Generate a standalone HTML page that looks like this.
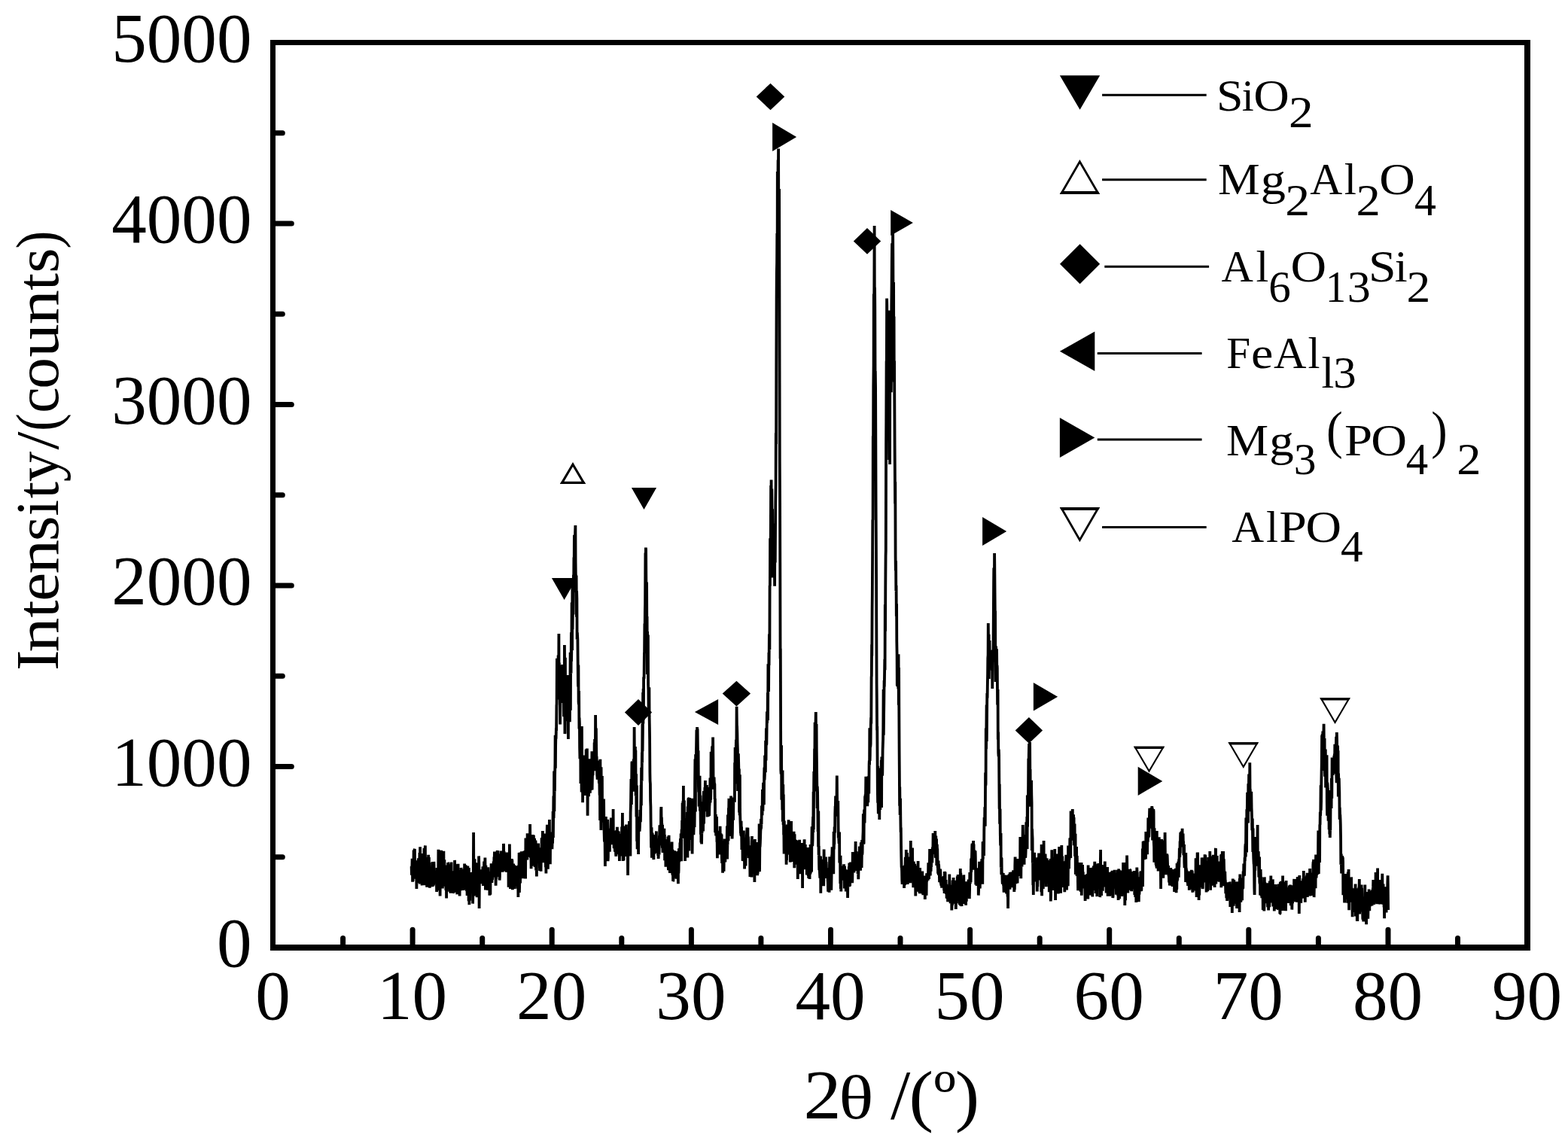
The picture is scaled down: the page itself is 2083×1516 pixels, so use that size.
<!DOCTYPE html>
<html lang="en"><head><meta charset="utf-8">
<style>
html,body{margin:0;padding:0;background:#fff;}
body{width:2083px;height:1516px;overflow:hidden;}
svg{display:block;font-family:"Liberation Serif",serif;fill:#000;}
.tk{font-size:93.2px;}
.yl{text-anchor:end;}
.xl{text-anchor:middle;}
.ax{font-size:79.5px;}
.axx{font-size:92.5px;}
.lg{font-size:59.4px;}
.o{fill:none;stroke:#000;stroke-width:3;stroke-linejoin:miter;stroke-miterlimit:10;}
.t{stroke:#000;stroke-width:7;stroke-linecap:round;fill:none;}
.ln{stroke:#000;stroke-width:3;fill:none;}
.c{stroke:#000;stroke-width:3.8;stroke-linejoin:bevel;stroke-linecap:butt;fill:none;}
</style></head>
<body>
<svg width="2083" height="1516" viewBox="0 0 2083 1516">
<rect x="0" y="0" width="2083" height="1516" fill="#fff"/>
<g class="t">
<line x1="363" y1="1138.8" x2="375.3" y2="1138.8"/>
<line x1="363" y1="1018.5" x2="387.3" y2="1018.5"/>
<line x1="363" y1="898.2" x2="375.3" y2="898.2"/>
<line x1="363" y1="778.0" x2="387.3" y2="778.0"/>
<line x1="363" y1="657.8" x2="375.3" y2="657.8"/>
<line x1="363" y1="537.5" x2="387.3" y2="537.5"/>
<line x1="363" y1="417.2" x2="375.3" y2="417.2"/>
<line x1="363" y1="297.0" x2="387.3" y2="297.0"/>
<line x1="363" y1="176.8" x2="375.3" y2="176.8"/>
<line x1="455.6" y1="1259" x2="455.6" y2="1246.5"/>
<line x1="548.1" y1="1259" x2="548.1" y2="1235.2"/>
<line x1="640.7" y1="1259" x2="640.7" y2="1246.5"/>
<line x1="733.2" y1="1259" x2="733.2" y2="1235.2"/>
<line x1="825.8" y1="1259" x2="825.8" y2="1246.5"/>
<line x1="918.4" y1="1259" x2="918.4" y2="1235.2"/>
<line x1="1010.9" y1="1259" x2="1010.9" y2="1246.5"/>
<line x1="1103.5" y1="1259" x2="1103.5" y2="1235.2"/>
<line x1="1196.0" y1="1259" x2="1196.0" y2="1246.5"/>
<line x1="1288.6" y1="1259" x2="1288.6" y2="1235.2"/>
<line x1="1381.2" y1="1259" x2="1381.2" y2="1246.5"/>
<line x1="1473.7" y1="1259" x2="1473.7" y2="1235.2"/>
<line x1="1566.3" y1="1259" x2="1566.3" y2="1246.5"/>
<line x1="1658.8" y1="1259" x2="1658.8" y2="1235.2"/>
<line x1="1751.4" y1="1259" x2="1751.4" y2="1246.5"/>
<line x1="1844.0" y1="1259" x2="1844.0" y2="1235.2"/>
<line x1="1936.5" y1="1259" x2="1936.5" y2="1246.5"/>
</g>
<g>
<rect x="359" y="53" width="7" height="1210"/>
<rect x="359" y="53" width="1674" height="7"/>
<rect x="2025" y="53" width="8" height="1210"/>
<rect x="359" y="1255" width="1674" height="8"/>
</g>
<g class="tk yl">
<text x="334.5" y="1284.0">0</text>
<text x="334.5" y="1043.5">1000</text>
<text x="334.5" y="803.0">2000</text>
<text x="334.5" y="562.5">3000</text>
<text x="334.5" y="322.0">4000</text>
<text x="334.5" y="81.5">5000</text>
</g>
<g class="tk xl">
<text x="362.5" y="1354">0</text>
<text x="547.6" y="1354">10</text>
<text x="732.7" y="1354">20</text>
<text x="917.9" y="1354">30</text>
<text x="1103.0" y="1354">40</text>
<text x="1288.1" y="1354">50</text>
<text x="1473.2" y="1354">60</text>
<text x="1658.3" y="1354">70</text>
<text x="1843.5" y="1354">80</text>
<text x="2028.6" y="1354">90</text>
</g>
<text class="ax" transform="translate(77.2 888) rotate(-90)" y="0"><tspan x="-3.0" textLength="27.5" lengthAdjust="spacingAndGlyphs">I</tspan><tspan x="21.6" textLength="46.0" lengthAdjust="spacingAndGlyphs">n</tspan><tspan x="67.5" textLength="22.9" lengthAdjust="spacingAndGlyphs">t</tspan><tspan x="89.2" textLength="38.1" lengthAdjust="spacingAndGlyphs">e</tspan><tspan x="125.6" textLength="45.7" lengthAdjust="spacingAndGlyphs">n</tspan><tspan x="168.7" textLength="33.9" lengthAdjust="spacingAndGlyphs">s</tspan><tspan x="202.6" textLength="21.4" lengthAdjust="spacingAndGlyphs">i</tspan><tspan x="225.7" textLength="22.3" lengthAdjust="spacingAndGlyphs">t</tspan><tspan x="247.8" textLength="40.5" lengthAdjust="spacingAndGlyphs">y</tspan><tspan x="290.4" textLength="24.0" lengthAdjust="spacingAndGlyphs">/</tspan><tspan x="314.9" textLength="23.9" lengthAdjust="spacingAndGlyphs">(</tspan><tspan x="339.2" textLength="34.3" lengthAdjust="spacingAndGlyphs">c</tspan><tspan x="371.3" textLength="41.8" lengthAdjust="spacingAndGlyphs">o</tspan><tspan x="413.2" textLength="44.5" lengthAdjust="spacingAndGlyphs">u</tspan><tspan x="456.8" textLength="46.1" lengthAdjust="spacingAndGlyphs">n</tspan><tspan x="502.3" textLength="22.7" lengthAdjust="spacingAndGlyphs">t</tspan><tspan x="525.3" textLength="33.4" lengthAdjust="spacingAndGlyphs">s</tspan><tspan x="557.6" textLength="23.9" lengthAdjust="spacingAndGlyphs">)</tspan></text>
<text class="axx" y="1485.8"><tspan x="1067.4" font-size="93.3" textLength="50.1" lengthAdjust="spacingAndGlyphs">2</tspan><tspan x="1114.2" font-size="81.5" textLength="46.2" lengthAdjust="spacingAndGlyphs">θ</tspan><tspan> </tspan><tspan x="1182.9" font-size="93.0" textLength="26.3" lengthAdjust="spacingAndGlyphs">/</tspan><tspan x="1207.5" font-size="90.0" textLength="32.5" lengthAdjust="spacingAndGlyphs">(</tspan><tspan x="1240.4" font-size="93.0" textLength="29.4" lengthAdjust="spacingAndGlyphs">º</tspan><tspan x="1268.8" font-size="90.0" textLength="32.4" lengthAdjust="spacingAndGlyphs">)</tspan></text>
<path class="c" d="M546.6 1151.1L546.9 1162.7L547.1 1151.5L547.4 1150.2L547.6 1140.8L547.9 1151.7L548.1 1171.8L548.4 1161.3
L548.6 1170.6L548.9 1158.6L549.1 1160.8L549.4 1157.6L549.6 1129.4L549.9 1167.8L550.1 1162.5L550.4 1162.3
L550.6 1128.8L550.9 1128.0L551.1 1141.0L551.4 1147.5L551.6 1159.3L551.9 1153.9L552.1 1162.6L552.4 1144.7
L552.6 1159.3L552.9 1160.6L553.1 1144.3L553.4 1180.9L553.6 1163.1L553.9 1172.9L554.1 1145.2L554.4 1143.4
L554.6 1149.5L554.9 1153.1L555.1 1164.3L555.4 1158.6L555.6 1148.1L555.9 1140.4L556.1 1147.1L556.4 1173.2
L556.6 1142.8L556.9 1158.6L557.1 1161.4L557.4 1132.9L557.6 1155.8L557.9 1174.5L558.1 1125.3L558.4 1150.4
L558.6 1153.6L558.9 1143.2L559.1 1162.6L559.4 1154.4L559.6 1133.9L559.9 1167.4L560.1 1165.1L560.4 1169.2
L560.6 1176.4L560.9 1160.7L561.1 1157.2L561.4 1136.8L561.6 1164.4L561.9 1146.8L562.1 1149.1L562.4 1137.6
L562.6 1141.9L562.9 1148.2L563.1 1174.1L563.4 1127.0L563.6 1135.2L563.9 1159.2L564.1 1176.2L564.4 1164.1
L564.6 1129.3L564.9 1123.4L565.1 1161.1L565.4 1146.1L565.6 1141.2L565.9 1170.1L566.1 1171.9L566.4 1159.4
L566.6 1160.8L566.9 1163.4L567.1 1178.8L567.4 1166.2L567.6 1165.1L567.9 1165.6L568.1 1139.1L568.4 1175.2
L568.6 1171.2L568.9 1166.1L569.1 1135.7L569.4 1152.4L569.6 1170.4L569.9 1139.0L570.1 1158.6L570.4 1172.8
L570.6 1146.1L570.9 1179.8L571.1 1167.9L571.4 1160.2L571.6 1165.7L571.9 1169.5L572.1 1163.8L572.4 1174.9
L572.6 1154.9L572.9 1157.4L573.1 1173.6L573.4 1162.1L573.6 1151.7L573.9 1172.4L574.1 1178.3L574.4 1156.2
L574.6 1145.1L574.9 1159.5L575.1 1159.2L575.4 1157.3L575.6 1177.5L575.9 1148.3L576.1 1175.7L576.4 1144.9
L576.6 1150.6L576.9 1167.8L577.1 1173.9L577.4 1170.5L577.6 1164.0L577.9 1161.4L578.1 1161.4L578.4 1166.6
L578.6 1157.0L578.9 1162.6L579.1 1166.3L579.4 1158.8L579.6 1168.7L579.9 1166.0L580.1 1185.0L580.4 1162.9
L580.6 1153.1L580.9 1153.9L581.1 1158.7L581.4 1171.1L581.6 1154.6L581.9 1164.1L582.1 1183.3L582.4 1128.7
L582.6 1144.5L582.9 1162.6L583.1 1164.7L583.4 1162.6L583.6 1153.9L583.9 1168.3L584.1 1163.4L584.4 1152.9
L584.6 1190.4L584.9 1164.6L585.1 1152.7L585.4 1158.8L585.6 1157.2L585.9 1159.4L586.1 1129.8L586.4 1154.0
L586.6 1173.8L586.9 1145.2L587.1 1159.8L587.4 1173.3L587.6 1172.0L587.9 1180.5L588.1 1138.5L588.4 1156.4
L588.6 1156.6L588.9 1169.4L589.1 1175.6L589.4 1130.8L589.6 1175.7L589.9 1142.4L590.1 1170.6L590.4 1142.2
L590.6 1164.2L590.9 1177.7L591.1 1160.4L591.4 1165.0L591.6 1173.0L591.9 1164.7L592.1 1161.9L592.4 1182.9
L592.6 1176.9L592.9 1159.9L593.1 1193.4L593.4 1149.5L593.6 1175.8L593.9 1161.0L594.1 1166.2L594.4 1173.6
L594.6 1167.7L594.9 1173.1L595.1 1146.3L595.4 1146.8L595.6 1173.3L595.9 1154.0L596.1 1153.4L596.4 1148.2
L596.6 1181.9L596.9 1175.7L597.1 1184.7L597.4 1155.6L597.6 1167.2L597.9 1153.6L598.1 1176.8L598.4 1186.8
L598.6 1157.3L598.9 1186.7L599.1 1180.1L599.4 1166.4L599.6 1145.4L599.9 1185.5L600.1 1167.9L600.4 1162.0
L600.6 1173.7L600.9 1173.9L601.1 1186.6L601.4 1157.2L601.6 1182.4L601.9 1186.5L602.1 1186.1L602.4 1167.1
L602.6 1160.6L602.9 1181.1L603.1 1170.6L603.4 1170.8L603.6 1185.8L603.9 1166.3L604.1 1142.9L604.4 1165.0
L604.6 1148.1L604.9 1178.9L605.1 1173.1L605.4 1162.5L605.6 1169.5L605.9 1179.1L606.1 1170.5L606.4 1184.8
L606.6 1169.0L606.9 1181.5L607.1 1186.7L607.4 1188.0L607.6 1162.1L607.9 1179.7L608.1 1148.6L608.4 1157.6
L608.6 1147.7L608.9 1181.9L609.1 1156.1L609.4 1169.8L609.6 1167.8L609.9 1169.7L610.1 1163.4L610.4 1172.8
L610.6 1190.4L610.9 1170.9L611.1 1176.5L611.4 1181.9L611.6 1168.6L611.9 1156.8L612.1 1164.8L612.4 1183.2
L612.6 1152.9L612.9 1164.7L613.1 1182.8L613.4 1180.6L613.6 1171.9L613.9 1180.9L614.1 1173.9L614.4 1159.0
L614.6 1154.8L614.9 1165.3L615.1 1182.9L615.4 1166.3L615.6 1162.7L615.9 1164.3L616.1 1155.9L616.4 1171.9
L616.6 1160.1L616.9 1177.5L617.1 1147.5L617.4 1177.3L617.6 1166.6L617.9 1152.2L618.1 1182.2L618.4 1171.1
L618.6 1149.3L618.9 1164.6L619.1 1177.8L619.4 1169.5L619.6 1183.5L619.9 1183.3L620.1 1182.4L620.4 1178.6
L620.6 1190.0L620.9 1182.3L621.1 1179.8L621.4 1150.4L621.6 1184.9L621.9 1189.7L622.1 1170.8L622.4 1168.6
L622.6 1197.3L622.9 1153.0L623.1 1179.6L623.4 1202.1L623.6 1162.5L623.9 1182.2L624.1 1196.9L624.4 1172.1
L624.6 1180.5L624.9 1184.7L625.1 1161.9L625.4 1172.1L625.6 1176.9L625.9 1183.6L626.1 1172.4L626.4 1170.0
L626.6 1159.1L626.9 1167.3L627.1 1183.1L627.4 1172.6L627.6 1159.8L627.9 1159.7L628.1 1200.6L628.4 1184.9
L628.6 1178.0L628.9 1138.9L629.1 1106.0L629.4 1175.0L629.6 1190.5L629.9 1173.7L630.1 1166.8L630.4 1174.3
L630.6 1141.3L630.9 1180.5L631.1 1170.8L631.4 1156.8L631.6 1183.5L631.9 1189.6L632.1 1146.4L632.4 1155.9
L632.6 1168.4L632.9 1166.7L633.1 1158.7L633.4 1151.1L633.6 1192.2L633.9 1177.8L634.1 1148.5L634.4 1146.7
L634.6 1186.4L634.9 1177.1L635.1 1187.8L635.4 1174.7L635.6 1153.3L635.9 1167.8L636.1 1137.4L636.4 1155.2
L636.6 1207.0L636.9 1171.1L637.1 1155.7L637.4 1163.2L637.6 1170.3L637.9 1169.4L638.1 1172.5L638.4 1167.4
L638.6 1161.1L638.9 1174.3L639.1 1165.6L639.4 1155.4L639.6 1157.8L639.9 1165.1L640.1 1163.9L640.4 1167.0
L640.6 1165.3L640.9 1167.3L641.1 1163.8L641.4 1151.4L641.6 1170.1L641.9 1177.0L642.1 1170.2L642.4 1163.4
L642.6 1170.3L642.9 1154.8L643.1 1144.5L643.4 1165.9L643.6 1155.0L643.9 1173.3L644.1 1153.2L644.4 1139.5
L644.6 1153.6L644.9 1182.4L645.1 1160.7L645.4 1149.8L645.6 1156.4L645.9 1170.5L646.1 1170.2L646.4 1166.6
L646.6 1181.1L646.9 1172.4L647.1 1164.3L647.4 1171.1L647.6 1182.8L647.9 1175.2L648.1 1175.8L648.4 1152.2
L648.6 1162.6L648.9 1172.4L649.1 1160.9L649.4 1176.1L649.6 1170.7L649.9 1174.2L650.1 1161.5L650.4 1189.7
L650.6 1177.2L650.9 1160.5L651.1 1163.7L651.4 1188.8L651.6 1158.1L651.9 1171.7L652.1 1172.6L652.4 1161.1
L652.6 1147.3L652.9 1162.6L653.1 1164.3L653.4 1173.0L653.6 1168.7L653.9 1159.5L654.1 1168.9L654.4 1164.9
L654.6 1160.7L654.9 1158.6L655.1 1154.7L655.4 1165.5L655.6 1144.4L655.9 1149.1L656.1 1156.5L656.4 1138.6
L656.6 1150.8L656.9 1131.6L657.1 1147.5L657.4 1162.4L657.6 1162.2L657.9 1154.5L658.1 1152.2L658.4 1137.6
L658.6 1176.8L658.9 1160.7L659.1 1167.5L659.4 1143.4L659.6 1151.6L659.9 1131.6L660.1 1163.0L660.4 1164.7
L660.6 1130.1L660.9 1152.4L661.1 1160.5L661.4 1131.1L661.6 1130.2L661.9 1139.3L662.1 1144.4L662.4 1134.7
L662.6 1152.1L662.9 1154.6L663.1 1159.1L663.4 1159.8L663.6 1169.5L663.9 1165.1L664.1 1134.5L664.4 1144.3
L664.6 1137.2L664.9 1136.8L665.1 1149.0L665.4 1150.1L665.6 1156.0L665.9 1130.4L666.1 1134.7L666.4 1149.7
L666.6 1147.5L666.9 1146.1L667.1 1149.1L667.4 1140.5L667.6 1158.6L667.9 1154.3L668.1 1148.8L668.4 1141.5
L668.6 1147.7L668.9 1121.0L669.1 1123.0L669.4 1150.3L669.6 1131.1L669.9 1152.3L670.1 1151.6L670.4 1132.6
L670.6 1146.6L670.9 1145.8L671.1 1155.5L671.4 1157.3L671.6 1149.2L671.9 1139.1L672.1 1147.9L672.4 1148.8
L672.6 1158.8L672.9 1153.3L673.1 1140.6L673.4 1132.6L673.6 1144.9L673.9 1140.3L674.1 1135.6L674.4 1148.1
L674.6 1143.4L674.9 1150.9L675.1 1156.1L675.4 1144.3L675.6 1178.7L675.9 1145.5L676.1 1163.5L676.4 1151.5
L676.6 1164.3L676.9 1121.4L677.1 1141.5L677.4 1154.4L677.6 1159.2L677.9 1181.0L678.1 1156.3L678.4 1168.6
L678.6 1162.5L678.9 1165.1L679.1 1159.9L679.4 1151.9L679.6 1160.6L679.9 1141.1L680.1 1169.6L680.4 1142.5
L680.6 1158.6L680.9 1182.2L681.1 1153.4L681.4 1156.8L681.6 1171.3L681.9 1157.5L682.1 1147.5L682.4 1161.0
L682.6 1165.4L682.9 1167.3L683.1 1149.3L683.4 1180.8L683.6 1180.0L683.9 1160.0L684.1 1163.3L684.4 1154.6
L684.6 1177.7L684.9 1150.9L685.1 1168.5L685.4 1153.6L685.6 1150.7L685.9 1169.2L686.1 1177.4L686.4 1159.5
L686.6 1150.4L686.9 1170.6L687.1 1158.8L687.4 1163.8L687.6 1180.7L687.9 1175.3L688.1 1151.9L688.4 1192.0
L688.6 1159.3L688.9 1170.7L689.1 1149.6L689.4 1158.4L689.6 1132.9L689.9 1185.9L690.1 1179.3L690.4 1139.9
L690.6 1135.0L690.9 1132.7L691.1 1173.4L691.4 1148.7L691.6 1153.9L691.9 1149.6L692.1 1151.7L692.4 1137.3
L692.6 1152.5L692.9 1131.2L693.1 1149.8L693.4 1154.4L693.6 1155.9L693.9 1145.6L694.1 1135.8L694.4 1149.7
L694.6 1140.3L694.9 1167.1L695.1 1155.7L695.4 1143.3L695.6 1138.0L695.9 1134.4L696.1 1130.8L696.4 1137.7
L696.6 1145.3L696.9 1147.4L697.1 1147.4L697.4 1166.2L697.6 1130.1L697.9 1138.6L698.1 1167.4L698.4 1113.5
L698.6 1130.0L698.9 1138.2L699.1 1137.4L699.4 1140.1L699.6 1131.2L699.9 1138.4L700.1 1133.7L700.4 1142.5
L700.6 1107.3L700.9 1119.7L701.1 1130.6L701.4 1116.6L701.6 1115.8L701.9 1137.1L702.1 1120.0L702.4 1137.0
L702.6 1138.6L702.9 1132.9L703.1 1135.7L703.4 1127.8L703.6 1110.9L703.9 1129.0L704.1 1095.0L704.4 1122.8
L704.6 1128.5L704.9 1139.6L705.1 1118.7L705.4 1138.4L705.6 1154.3L705.9 1123.3L706.1 1132.4L706.4 1128.7
L706.6 1150.6L706.9 1135.0L707.1 1142.5L707.4 1122.4L707.6 1131.1L707.9 1131.3L708.1 1108.9L708.4 1150.0
L708.6 1143.2L708.9 1109.7L709.1 1141.5L709.4 1130.5L709.6 1138.0L709.9 1137.0L710.1 1113.7L710.4 1130.2
L710.6 1152.1L710.9 1126.1L711.1 1120.6L711.4 1116.6L711.6 1118.6L711.9 1138.8L712.1 1156.6L712.4 1140.6
L712.6 1138.5L712.9 1164.6L713.1 1129.1L713.4 1127.3L713.6 1143.3L713.9 1143.9L714.1 1123.6L714.4 1121.8
L714.6 1141.3L714.9 1141.0L715.1 1120.6L715.4 1135.6L715.6 1131.3L715.9 1145.0L716.1 1137.3L716.4 1137.5
L716.6 1133.5L716.9 1152.5L717.1 1157.0L717.4 1132.4L717.6 1149.1L717.9 1126.4L718.1 1137.7L718.4 1147.1
L718.6 1157.8L718.9 1130.4L719.1 1134.6L719.4 1138.2L719.6 1113.2L719.9 1135.1L720.1 1124.6L720.4 1139.8
L720.6 1117.1L720.9 1104.0L721.1 1134.1L721.4 1137.2L721.6 1124.6L721.9 1146.3L722.1 1128.1L722.4 1122.7
L722.6 1138.8L722.9 1107.4L723.1 1120.6L723.4 1130.1L723.6 1142.6L723.9 1127.2L724.1 1133.7L724.4 1119.2
L724.6 1132.8L724.9 1152.1L725.1 1117.7L725.4 1160.5L725.6 1117.7L725.9 1126.7L726.1 1128.5L726.4 1140.0
L726.6 1108.0L726.9 1095.8L727.1 1132.8L727.4 1135.0L727.6 1132.2L727.9 1154.7L728.1 1125.7L728.4 1125.9
L728.6 1134.5L728.9 1126.6L729.1 1143.3L729.4 1104.6L729.6 1115.6L729.9 1089.1L730.1 1130.8L730.4 1114.4
L730.6 1131.7L730.9 1148.2L731.1 1118.3L731.4 1114.5L731.6 1110.7L731.9 1105.5L732.1 1108.0L732.4 1125.5
L732.6 1116.6L732.9 1116.7L733.1 1112.9L733.4 1128.1L733.6 1121.7L733.9 1112.2L734.1 1120.9L734.4 1101.4
L734.6 1078.0L734.9 1113.1L735.1 1089.7L735.4 1057.5L735.6 1086.9L735.9 1067.0L736.1 1024.6L736.4 1078.1
L736.6 1047.1L736.9 1051.6L737.1 1030.5L737.4 1014.7L737.6 976.9L737.9 1020.7L738.1 992.1L738.4 976.5
L738.6 981.8L738.9 967.0L739.1 971.4L739.4 937.4L739.6 935.1L739.9 874.8L740.1 905.7L740.4 922.6L740.6 929.4
L740.9 876.8L741.1 876.6L741.4 917.2L741.6 870.5L741.9 893.6L742.1 912.2L742.4 842.0L742.6 912.1L742.9 880.6
L743.1 910.5L743.4 904.3L743.6 909.8L743.9 934.5L744.1 962.4L744.4 894.4L744.6 897.6L744.9 922.0L745.1 889.5
L745.4 923.2L745.6 925.3L745.9 909.0L746.1 925.5L746.4 883.9L746.6 930.5L746.9 882.9L747.1 900.3L747.4 903.0
L747.6 906.2L747.9 934.1L748.1 916.8L748.4 905.9L748.6 927.6L748.9 952.3L749.1 915.1L749.4 923.9L749.6 945.5
L749.9 857.0L750.1 883.6L750.4 975.0L750.6 973.3L750.9 873.7L751.1 922.3L751.4 934.9L751.6 949.2L751.9 944.0
L752.1 924.7L752.4 909.5L752.6 936.7L752.9 958.3L753.1 914.5L753.4 915.7L753.6 935.9L753.9 896.9L754.1 930.3
L754.4 926.4L754.6 943.2L754.9 982.0L755.1 917.0L755.4 925.8L755.6 931.7L755.9 920.2L756.1 931.9L756.4 944.3
L756.6 951.2L756.9 959.2L757.1 913.5L757.4 911.8L757.6 866.7L757.9 943.8L758.1 881.2L758.4 888.7L758.6 894.6
L758.9 840.2L759.1 878.6L759.4 857.1L759.6 800.5L759.9 848.1L760.1 863.9L760.4 771.6L760.6 836.3L760.9 811.1
L761.1 809.9L761.4 800.3L761.6 816.5L761.9 763.8L762.1 787.1L762.4 740.6L762.6 765.7L762.9 710.8L763.1 727.3
L763.4 780.9L763.6 745.2L763.9 730.4L764.1 707.9L764.4 698.0L764.6 747.5L764.9 772.0L765.1 763.9L765.4 772.1
L765.6 764.8L765.9 819.8L766.1 785.0L766.4 795.7L766.6 849.6L766.9 840.4L767.1 844.6L767.4 850.3L767.6 872.1
L767.9 907.7L768.1 912.5L768.4 883.6L768.6 932.8L768.9 936.1L769.1 917.9L769.4 968.4L769.6 953.6L769.9 961.9
L770.1 993.8L770.4 1008.2L770.6 967.2L770.9 994.7L771.1 969.3L771.4 1040.9L771.6 983.7L771.9 1022.6
L772.1 986.5L772.4 1020.2L772.6 1052.5L772.9 965.0L773.1 1007.1L773.4 1028.9L773.6 1022.4L773.9 1017.2
L774.1 1066.2L774.4 1032.8L774.6 1004.6L774.9 1046.6L775.1 1003.6L775.4 1052.6L775.6 1023.5L775.9 1036.3
L776.1 1056.1L776.4 1036.6L776.6 1010.3L776.9 1005.0L777.1 1056.9L777.4 1049.4L777.6 1021.5L777.9 1052.6
L778.1 1046.4L778.4 1049.6L778.6 995.4L778.9 1032.5L779.1 1055.8L779.4 1053.1L779.6 1056.5L779.9 994.5
L780.1 1043.2L780.4 1049.1L780.6 1083.8L780.9 1020.8L781.1 1032.4L781.4 1039.0L781.6 1054.4L781.9 1029.6
L782.1 1058.2L782.4 1022.9L782.6 1041.5L782.9 1027.2L783.1 1038.9L783.4 1023.9L783.6 1008.2L783.9 1053.7
L784.1 1040.0L784.4 1025.3L784.6 1037.5L784.9 1050.0L785.1 1018.0L785.4 1031.6L785.6 1041.5L785.9 1040.8
L786.1 1026.9L786.4 998.3L786.6 1049.5L786.9 1034.1L787.1 1028.1L787.4 1022.4L787.6 1030.1L787.9 1017.9
L788.1 1007.0L788.4 1010.5L788.6 1011.8L788.9 1010.4L789.1 998.6L789.4 1024.2L789.6 986.6L789.9 1015.3
L790.1 982.1L790.4 1000.8L790.6 1013.7L790.9 988.9L791.1 950.0L791.4 983.1L791.6 990.4L791.9 967.5L792.1 990.8
L792.4 1007.3L792.6 1005.0L792.9 1017.5L793.1 1029.1L793.4 1031.7L793.6 1035.7L793.9 1033.9L794.1 1024.4
L794.4 1029.9L794.6 1028.1L794.9 1029.2L795.1 1033.0L795.4 1010.4L795.6 1034.1L795.9 1041.0L796.1 1026.5
L796.4 1044.7L796.6 1056.4L796.9 1045.8L797.1 1090.1L797.4 1008.8L797.6 1050.6L797.9 1022.3L798.1 1076.5
L798.4 1103.1L798.6 1019.2L798.9 1066.2L799.1 1075.2L799.4 1062.1L799.6 1079.5L799.9 1031.1L800.1 1088.5
L800.4 1081.7L800.6 1077.4L800.9 1068.5L801.1 1092.6L801.4 1077.0L801.6 1092.7L801.9 1084.6L802.1 1061.4
L802.4 1099.8L802.6 1107.0L802.9 1118.5L803.1 1097.8L803.4 1109.8L803.6 1119.0L803.9 1151.0L804.1 1128.0
L804.4 1138.4L804.6 1098.7L804.9 1085.0L805.1 1123.2L805.4 1132.5L805.6 1124.4L805.9 1123.1L806.1 1103.9
L806.4 1102.8L806.6 1124.5L806.9 1100.5L807.1 1088.7L807.4 1099.8L807.6 1144.1L807.9 1138.9L808.1 1104.6
L808.4 1104.2L808.6 1117.0L808.9 1104.4L809.1 1131.4L809.4 1113.5L809.6 1100.7L809.9 1131.8L810.1 1107.5
L810.4 1117.8L810.6 1114.8L810.9 1111.0L811.1 1119.2L811.4 1106.1L811.6 1091.2L811.9 1086.6L812.1 1098.7
L812.4 1105.2L812.6 1114.7L812.9 1115.7L813.1 1122.2L813.4 1116.5L813.6 1104.8L813.9 1105.9L814.1 1087.7
L814.4 1112.8L814.6 1075.0L814.9 1121.8L815.1 1113.4L815.4 1112.8L815.6 1127.1L815.9 1115.2L816.1 1124.5
L816.4 1122.5L816.6 1117.7L816.9 1131.8L817.1 1107.6L817.4 1110.4L817.6 1104.6L817.9 1104.7L818.1 1135.0
L818.4 1137.7L818.6 1115.3L818.9 1122.3L819.1 1130.1L819.4 1125.4L819.6 1130.5L819.9 1098.7L820.1 1106.8
L820.4 1121.0L820.6 1133.7L820.9 1116.6L821.1 1104.3L821.4 1110.9L821.6 1107.0L821.9 1104.5L822.1 1135.2
L822.4 1107.7L822.6 1116.2L822.9 1144.0L823.1 1131.4L823.4 1120.5L823.6 1108.3L823.9 1121.7L824.1 1137.5
L824.4 1124.6L824.6 1133.0L824.9 1118.0L825.1 1123.5L825.4 1114.3L825.6 1122.5L825.9 1134.0L826.1 1098.5
L826.4 1116.4L826.6 1120.4L826.9 1080.0L827.1 1113.5L827.4 1127.9L827.6 1143.9L827.9 1126.0L828.1 1122.1
L828.4 1097.6L828.6 1143.3L828.9 1119.1L829.1 1117.7L829.4 1103.6L829.6 1117.6L829.9 1104.0L830.1 1119.5
L830.4 1124.8L830.6 1119.2L830.9 1122.6L831.1 1107.8L831.4 1138.0L831.6 1110.7L831.9 1095.5L832.1 1117.1
L832.4 1109.6L832.6 1106.5L832.9 1115.3L833.1 1123.9L833.4 1104.6L833.6 1118.5L833.9 1139.2L834.1 1163.0
L834.4 1118.7L834.6 1122.5L834.9 1119.3L835.1 1120.4L835.4 1130.8L835.6 1120.1L835.9 1090.9L836.1 1119.8
L836.4 1104.1L836.6 1122.4L836.9 1100.1L837.1 1108.1L837.4 1137.5L837.6 1079.7L837.9 1071.1L838.1 1058.7
L838.4 1035.1L838.6 1035.4L838.9 1068.9L839.1 1043.3L839.4 1012.7L839.6 1012.5L839.9 1046.3L840.1 1013.4
L840.4 1018.2L840.6 1028.4L840.9 1044.4L841.1 1051.6L841.4 1031.0L841.6 1011.3L841.9 1008.7L842.1 1033.7
L842.4 1023.4L842.6 966.0L842.9 1004.9L843.1 1007.1L843.4 1008.0L843.6 1002.9L843.9 992.1L844.1 1011.8
L844.4 996.7L844.6 1057.6L844.9 1052.6L845.1 1028.2L845.4 1085.5L845.6 1084.6L845.9 1043.6L846.1 1117.7
L846.4 1108.4L846.6 1128.3L846.9 1085.1L847.1 1114.3L847.4 1115.1L847.6 1114.8L847.9 1117.0L848.1 1135.0
L848.4 1094.5L848.6 1093.6L848.9 1087.5L849.1 1096.1L849.4 1092.0L849.6 1104.7L849.9 1099.4L850.1 1091.8
L850.4 1076.0L850.6 1076.3L850.9 1092.2L851.1 1080.4L851.4 1059.6L851.6 1042.9L851.9 1070.3L852.1 1019.8
L852.4 1035.8L852.6 1037.7L852.9 999.7L853.1 1013.6L853.4 961.8L853.6 998.3L853.9 970.5L854.1 919.9
L854.4 961.5L854.6 915.0L854.9 956.6L855.1 899.5L855.4 901.9L855.6 900.4L855.9 868.1L856.1 866.8L856.4 828.5
L856.6 845.0L856.9 810.2L857.1 802.0L857.4 734.4L857.6 805.4L857.9 727.6L858.1 730.3L858.4 782.0L858.6 799.7
L858.9 824.6L859.1 773.6L859.4 856.5L859.6 819.1L859.9 896.1L860.1 839.1L860.4 870.7L860.6 853.0L860.9 843.5
L861.1 910.0L861.4 917.2L861.6 946.5L861.9 943.6L862.1 923.7L862.4 913.2L862.6 951.9L862.9 967.9L863.1 981.6
L863.4 1026.8L863.6 1037.6L863.9 1041.6L864.1 1063.7L864.4 1071.7L864.6 1091.6L864.9 1114.1L865.1 1126.4
L865.4 1105.4L865.6 1099.2L865.9 1139.8L866.1 1126.3L866.4 1137.3L866.6 1106.6L866.9 1121.2L867.1 1125.1
L867.4 1108.8L867.6 1119.0L867.9 1132.7L868.1 1136.5L868.4 1142.1L868.6 1115.1L868.9 1109.2L869.1 1130.2
L869.4 1134.7L869.6 1126.5L869.9 1110.2L870.1 1132.8L870.4 1132.8L870.6 1130.2L870.9 1119.0L871.1 1127.4
L871.4 1132.6L871.6 1118.1L871.9 1104.4L872.1 1127.2L872.4 1128.2L872.6 1122.4L872.9 1131.4L873.1 1114.3
L873.4 1119.2L873.6 1115.9L873.9 1125.3L874.1 1136.6L874.4 1114.3L874.6 1141.0L874.9 1134.2L875.1 1124.7
L875.4 1121.6L875.6 1135.6L875.9 1110.7L876.1 1110.3L876.4 1096.2L876.6 1113.9L876.9 1123.2L877.1 1110.8
L877.4 1107.5L877.6 1097.3L877.9 1100.2L878.1 1076.9L878.4 1072.0L878.6 1092.3L878.9 1085.7L879.1 1093.3
L879.4 1095.1L879.6 1120.9L879.9 1126.6L880.1 1096.0L880.4 1130.5L880.6 1132.8L880.9 1115.2L881.1 1104.5
L881.4 1115.6L881.6 1117.8L881.9 1132.1L882.1 1123.1L882.4 1100.7L882.6 1132.6L882.9 1109.0L883.1 1143.2
L883.4 1115.0L883.6 1122.7L883.9 1121.2L884.1 1126.2L884.4 1151.8L884.6 1146.4L884.9 1143.7L885.1 1140.4
L885.4 1115.6L885.6 1129.7L885.9 1129.5L886.1 1124.2L886.4 1144.2L886.6 1127.9L886.9 1128.6L887.1 1124.5
L887.4 1111.5L887.6 1146.5L887.9 1156.3L888.1 1141.5L888.4 1126.8L888.6 1109.8L888.9 1142.3L889.1 1156.0
L889.4 1144.4L889.6 1152.7L889.9 1160.0L890.1 1155.7L890.4 1136.0L890.6 1155.2L890.9 1151.9L891.1 1123.1
L891.4 1137.6L891.6 1125.1L891.9 1141.8L892.1 1150.7L892.4 1130.5L892.6 1118.5L892.9 1160.3L893.1 1149.1
L893.4 1162.8L893.6 1128.8L893.9 1158.2L894.1 1170.8L894.4 1170.2L894.6 1143.5L894.9 1149.6L895.1 1144.7
L895.4 1158.5L895.6 1159.0L895.9 1147.6L896.1 1130.3L896.4 1155.5L896.6 1141.0L896.9 1154.2L897.1 1149.8
L897.4 1166.1L897.6 1160.3L897.9 1141.3L898.1 1150.9L898.4 1167.7L898.6 1140.4L898.9 1151.9L899.1 1160.9
L899.4 1161.7L899.6 1153.0L899.9 1131.2L900.1 1131.9L900.4 1149.8L900.6 1151.5L900.9 1174.3L901.1 1136.8
L901.4 1160.4L901.6 1156.0L901.9 1127.3L902.1 1136.0L902.4 1145.3L902.6 1133.8L902.9 1135.5L903.1 1141.9
L903.4 1119.6L903.6 1137.0L903.9 1115.9L904.1 1114.3L904.4 1131.0L904.6 1107.5L904.9 1121.3L905.1 1144.3
L905.4 1109.0L905.6 1101.7L905.9 1114.1L906.1 1090.0L906.4 1111.6L906.6 1066.8L906.9 1094.9L907.1 1072.5
L907.4 1064.4L907.6 1099.4L907.9 1044.0L908.1 1097.0L908.4 1084.1L908.6 1100.8L908.9 1063.4L909.1 1104.7
L909.4 1113.5L909.6 1087.4L909.9 1090.2L910.1 1144.0L910.4 1102.9L910.6 1091.8L910.9 1087.2L911.1 1110.6
L911.4 1108.0L911.6 1104.6L911.9 1137.9L912.1 1093.6L912.4 1110.8L912.6 1131.9L912.9 1079.0L913.1 1122.7
L913.4 1139.5L913.6 1071.6L913.9 1077.0L914.1 1078.3L914.4 1061.2L914.6 1061.0L914.9 1061.1L915.1 1110.5
L915.4 1130.5L915.6 1066.2L915.9 1093.3L916.1 1060.0L916.4 1116.0L916.6 1084.5L916.9 1094.2L917.1 1100.8
L917.4 1110.8L917.6 1092.5L917.9 1099.8L918.1 1088.3L918.4 1101.5L918.6 1075.5L918.9 1099.9L919.1 1060.7
L919.4 1088.7L919.6 1134.5L919.9 1099.2L920.1 1073.9L920.4 1101.9L920.6 1079.1L920.9 1066.9L921.1 1083.3
L921.4 1109.1L921.6 1102.6L921.9 1094.0L922.1 1076.1L922.4 1064.4L922.6 1098.9L922.9 1070.5L923.1 1039.5
L923.4 1008.4L923.6 1013.4L923.9 1078.5L924.1 1002.3L924.4 1016.4L924.6 1014.9L924.9 999.9L925.1 990.0
L925.4 969.9L925.6 970.4L925.9 1024.0L926.1 966.0L926.4 1009.8L926.6 968.3L926.9 992.6L927.1 1004.8
L927.4 1029.1L927.6 997.2L927.9 1044.2L928.1 1052.4L928.4 1043.8L928.6 1071.6L928.9 1049.1L929.1 1054.2
L929.4 1072.4L929.6 1030.8L929.9 1077.4L930.1 1062.9L930.4 1056.7L930.6 1081.0L930.9 1108.7L931.1 1086.3
L931.4 1119.5L931.6 1069.1L931.9 1065.2L932.1 1121.5L932.4 1097.5L932.6 1107.1L932.9 1071.6L933.1 1102.0
L933.4 1090.5L933.6 1096.8L933.9 1084.1L934.1 1104.4L934.4 1068.7L934.6 1061.5L934.9 1051.0L935.1 1094.6
L935.4 1060.6L935.6 1054.0L935.9 1054.2L936.1 1060.4L936.4 1046.0L936.6 1059.3L936.9 1037.0L937.1 1054.8
L937.4 1050.5L937.6 1066.8L937.9 1061.3L938.1 1071.4L938.4 1075.1L938.6 1078.2L938.9 1043.1L939.1 1068.0
L939.4 1063.8L939.6 1085.6L939.9 1051.8L940.1 1063.5L940.4 1068.8L940.6 1067.7L940.9 1085.1L941.1 1065.2
L941.4 1083.3L941.6 1050.7L941.9 1045.9L942.1 1083.9L942.4 1071.0L942.6 1069.1L942.9 1061.0L943.1 1063.9
L943.4 1033.4L943.6 1066.6L943.9 1038.1L944.1 1062.8L944.4 1043.4L944.6 998.8L944.9 1005.1L945.1 1046.7
L945.4 1014.5L945.6 1002.5L945.9 1009.1L946.1 991.9L946.4 991.8L946.6 1006.1L946.9 1008.5L947.1 979.6
L947.4 1008.9L947.6 1044.6L947.9 1045.8L948.1 1048.7L948.4 1043.1L948.6 1032.6L948.9 1041.0L949.1 1043.9
L949.4 1041.3L949.6 1062.2L949.9 1061.0L950.1 1106.3L950.4 1096.8L950.6 1091.3L950.9 1082.1L951.1 1110.4
L951.4 1106.3L951.6 1098.6L951.9 1098.1L952.1 1085.0L952.4 1118.8L952.6 1111.4L952.9 1140.3L953.1 1112.2
L953.4 1111.0L953.6 1130.5L953.9 1114.8L954.1 1115.4L954.4 1109.0L954.6 1106.3L954.9 1132.3L955.1 1126.4
L955.4 1135.5L955.6 1110.1L955.9 1115.0L956.1 1103.8L956.4 1127.1L956.6 1097.7L956.9 1122.5L957.1 1129.8
L957.4 1135.1L957.6 1107.2L957.9 1133.7L958.1 1113.0L958.4 1113.9L958.6 1108.6L958.9 1139.7L959.1 1146.9
L959.4 1121.7L959.6 1121.2L959.9 1127.6L960.1 1159.7L960.4 1145.8L960.6 1129.6L960.9 1117.0L961.1 1130.3
L961.4 1150.6L961.6 1157.7L961.9 1133.6L962.1 1128.4L962.4 1130.0L962.6 1114.5L962.9 1144.7L963.1 1122.5
L963.4 1145.4L963.6 1114.9L963.9 1119.3L964.1 1135.7L964.4 1123.9L964.6 1140.1L964.9 1131.4L965.1 1117.1
L965.4 1133.9L965.6 1133.8L965.9 1097.4L966.1 1141.4L966.4 1121.6L966.6 1122.5L966.9 1082.6L967.1 1095.5
L967.4 1097.9L967.6 1117.2L967.9 1073.6L968.1 1080.5L968.4 1060.9L968.6 1088.9L968.9 1097.1L969.1 1064.1
L969.4 1080.2L969.6 1095.9L969.9 1110.9L970.1 1095.7L970.4 1080.3L970.6 1066.5L970.9 1069.1L971.1 1057.5
L971.4 1083.8L971.6 1082.6L971.9 1109.8L972.1 1090.8L972.4 1071.0L972.6 1114.5L972.9 1106.8L973.1 1092.0
L973.4 1073.8L973.6 1063.0L973.9 1059.8L974.1 1089.7L974.4 1063.8L974.6 1061.6L974.9 1064.5L975.1 1061.3
L975.4 1064.0L975.6 1059.2L975.9 1065.8L976.1 1013.3L976.4 1041.4L976.6 993.0L976.9 1019.5L977.1 1001.7
L977.4 998.0L977.6 1007.2L977.9 982.7L978.1 998.9L978.4 989.0L978.6 938.7L978.9 963.4L979.1 965.3L979.4 974.9
L979.6 986.8L979.9 996.1L980.1 1051.1L980.4 1021.1L980.6 1029.2L980.9 1001.4L981.1 1010.2L981.4 1023.7
L981.6 1039.3L981.9 1021.4L982.1 1079.5L982.4 1045.7L982.6 1083.3L982.9 1029.2L983.1 1078.1L983.4 1090.4
L983.6 1095.3L983.9 1106.8L984.1 1106.8L984.4 1110.3L984.6 1090.9L984.9 1111.1L985.1 1098.6L985.4 1128.9
L985.6 1125.9L985.9 1121.0L986.1 1114.6L986.4 1117.4L986.6 1143.8L986.9 1143.1L987.1 1123.9L987.4 1139.2
L987.6 1107.3L987.9 1103.4L988.1 1120.2L988.4 1115.9L988.6 1119.8L988.9 1128.8L989.1 1154.6L989.4 1119.3
L989.6 1128.1L989.9 1131.2L990.1 1127.6L990.4 1139.8L990.6 1150.5L990.9 1113.0L991.1 1130.7L991.4 1125.5
L991.6 1133.5L991.9 1109.6L992.1 1106.8L992.4 1099.6L992.6 1136.3L992.9 1132.2L993.1 1130.8L993.4 1099.7
L993.6 1125.3L993.9 1120.4L994.1 1111.7L994.4 1118.4L994.6 1140.1L994.9 1138.2L995.1 1130.8L995.4 1138.2
L995.6 1123.2L995.9 1132.5L996.1 1132.2L996.4 1165.0L996.6 1131.0L996.9 1130.1L997.1 1130.4L997.4 1123.4
L997.6 1163.9L997.9 1139.9L998.1 1138.9L998.4 1165.5L998.6 1153.1L998.9 1111.0L999.1 1143.4L999.4 1145.7
L999.6 1161.0L999.9 1153.0L1000.1 1145.2L1000.4 1116.7L1000.6 1121.1L1000.9 1137.7L1001.1 1141.0L1001.4 1118.7
L1001.6 1127.9L1001.9 1127.6L1002.1 1134.2L1002.4 1172.0L1002.6 1129.0L1002.9 1115.0L1003.1 1151.3
L1003.4 1156.4L1003.6 1131.3L1003.9 1147.9L1004.1 1139.2L1004.4 1142.3L1004.6 1139.7L1004.9 1121.2
L1005.1 1140.9L1005.4 1147.2L1005.6 1119.0L1005.9 1161.2L1006.1 1163.0L1006.4 1159.0L1006.6 1161.4
L1006.9 1142.8L1007.1 1126.8L1007.4 1122.8L1007.6 1119.6L1007.9 1133.3L1008.1 1130.0L1008.4 1137.9
L1008.6 1094.5L1008.9 1158.0L1009.1 1155.2L1009.4 1116.9L1009.6 1125.4L1009.9 1119.6L1010.1 1113.8
L1010.4 1103.4L1010.6 1102.2L1010.9 1088.0L1011.1 1101.2L1011.4 1093.6L1011.6 1095.1L1011.9 1070.6
L1012.1 1081.8L1012.4 1077.6L1012.6 1083.3L1012.9 1048.9L1013.1 1071.6L1013.4 1077.8L1013.6 1066.8
L1013.9 1045.4L1014.1 1039.7L1014.4 1041.1L1014.6 1056.4L1014.9 1069.2L1015.1 1032.6L1015.4 1019.6
L1015.6 1036.5L1015.9 1029.8L1016.1 1004.0L1016.4 1004.0L1016.6 1013.6L1016.9 1026.2L1017.1 984.2L1017.4 984.4
L1017.6 1010.5L1017.9 967.5L1018.1 989.7L1018.4 988.7L1018.6 972.3L1018.9 945.6L1019.1 960.7L1019.4 948.2
L1019.6 956.3L1019.9 920.2L1020.1 957.1L1020.4 882.2L1020.6 909.6L1020.9 905.4L1021.1 919.1L1021.4 867.0
L1021.6 884.1L1021.9 842.6L1022.1 859.8L1022.4 863.0L1022.6 778.6L1022.9 777.9L1023.1 715.3L1023.4 755.0
L1023.6 745.3L1023.9 691.6L1024.1 645.1L1024.3 690.5L1024.6 637.5L1024.8 711.5L1025.1 714.6L1025.3 649.4
L1025.6 684.8L1025.8 746.2L1026.1 676.3L1026.3 744.0L1026.6 767.4L1026.8 740.0L1027.1 752.6L1027.3 716.7
L1027.6 695.4L1027.8 726.2L1028.1 724.8L1028.3 729.8L1028.6 749.8L1028.8 729.4L1029.1 778.7L1029.3 736.4
L1029.6 710.2L1029.8 747.6L1030.1 693.3L1030.3 667.7L1030.6 643.3L1030.8 575.3L1031.1 590.0L1031.3 495.0
L1031.6 396.9L1031.8 363.6L1032.1 348.7L1032.3 310.1L1032.6 345.9L1032.8 227.9L1033.1 279.1L1033.3 262.3
L1033.6 212.4L1033.8 253.9L1034.1 197.5L1034.3 280.1L1034.6 253.2L1034.8 290.7L1035.1 250.9L1035.3 323.0
L1035.6 494.0L1035.8 613.2L1036.1 672.9L1036.3 747.6L1036.6 875.2L1036.8 861.8L1037.1 961.1L1037.3 1022.8
L1037.6 1028.5L1037.8 1000.6L1038.1 990.3L1038.3 1062.7L1038.6 1043.5L1038.8 1029.8L1039.1 1054.3
L1039.3 1076.3L1039.6 1023.6L1039.8 1091.7L1040.1 1088.5L1040.3 1042.3L1040.6 1096.0L1040.8 1055.5
L1041.1 1109.2L1041.3 1100.1L1041.6 1134.6L1041.8 1090.5L1042.1 1104.3L1042.3 1124.7L1042.6 1100.8
L1042.8 1102.5L1043.1 1110.3L1043.3 1117.4L1043.6 1105.3L1043.8 1130.4L1044.1 1132.6L1044.3 1125.8
L1044.6 1148.8L1044.8 1119.8L1045.1 1143.1L1045.3 1116.2L1045.6 1135.0L1045.8 1095.5L1046.1 1126.6
L1046.3 1120.9L1046.6 1116.0L1046.8 1114.1L1047.1 1117.8L1047.3 1112.0L1047.6 1089.3L1047.8 1113.4
L1048.1 1114.1L1048.3 1114.6L1048.6 1106.4L1048.8 1120.9L1049.1 1135.6L1049.3 1119.4L1049.6 1115.7
L1049.8 1145.6L1050.1 1139.7L1050.3 1139.1L1050.6 1143.1L1050.8 1119.0L1051.1 1091.0L1051.3 1143.3
L1051.6 1115.6L1051.8 1123.1L1052.1 1131.6L1052.3 1131.7L1052.6 1120.8L1052.8 1142.7L1053.1 1122.8
L1053.3 1138.7L1053.6 1145.0L1053.8 1138.0L1054.1 1139.5L1054.3 1106.8L1054.6 1104.7L1054.8 1117.0
L1055.1 1135.9L1055.3 1153.2L1055.6 1108.3L1055.8 1133.8L1056.1 1115.3L1056.3 1117.7L1056.6 1125.4
L1056.8 1140.9L1057.1 1133.7L1057.3 1148.7L1057.6 1116.1L1057.8 1144.6L1058.1 1145.4L1058.3 1133.0
L1058.6 1139.4L1058.8 1124.4L1059.1 1117.1L1059.3 1127.5L1059.6 1124.4L1059.8 1168.0L1060.1 1127.4
L1060.3 1158.8L1060.6 1138.1L1060.8 1140.0L1061.1 1146.6L1061.3 1125.0L1061.6 1149.7L1061.8 1142.3
L1062.1 1115.7L1062.3 1146.2L1062.6 1145.9L1062.8 1144.8L1063.1 1161.1L1063.3 1133.2L1063.6 1146.6
L1063.8 1150.3L1064.1 1127.6L1064.3 1157.4L1064.6 1120.7L1064.8 1123.2L1065.1 1149.1L1065.3 1127.0
L1065.6 1141.0L1065.8 1120.1L1066.1 1180.0L1066.3 1128.0L1066.6 1149.1L1066.8 1123.3L1067.1 1151.4
L1067.3 1141.9L1067.6 1146.9L1067.8 1145.5L1068.1 1148.7L1068.3 1128.8L1068.6 1115.2L1068.8 1148.6
L1069.1 1135.4L1069.3 1142.6L1069.6 1155.3L1069.8 1122.0L1070.1 1139.4L1070.3 1141.7L1070.6 1135.7
L1070.8 1155.1L1071.1 1148.8L1071.3 1139.5L1071.6 1137.4L1071.8 1162.4L1072.1 1142.3L1072.3 1159.6
L1072.6 1157.9L1072.8 1125.9L1073.1 1137.2L1073.3 1152.3L1073.6 1157.1L1073.8 1163.2L1074.1 1163.7
L1074.3 1167.0L1074.6 1148.0L1074.8 1150.4L1075.1 1163.9L1075.3 1147.8L1075.6 1168.0L1075.8 1132.5
L1076.1 1162.0L1076.3 1148.7L1076.6 1122.0L1076.8 1160.5L1077.1 1149.2L1077.3 1143.1L1077.6 1125.4
L1077.8 1132.0L1078.1 1158.5L1078.3 1122.4L1078.6 1098.2L1078.8 1117.6L1079.1 1110.3L1079.3 1124.2
L1079.6 1114.6L1079.8 1095.3L1080.1 1085.1L1080.3 1106.1L1080.6 1051.9L1080.8 1102.1L1081.1 1045.8
L1081.3 1025.1L1081.6 1051.4L1081.8 1037.3L1082.1 994.7L1082.3 1021.6L1082.6 959.8L1082.8 975.1L1083.1 1011.3
L1083.3 980.0L1083.6 956.7L1083.8 946.0L1084.1 997.9L1084.3 988.9L1084.6 962.0L1084.8 998.2L1085.1 1023.2
L1085.3 1041.7L1085.6 1074.1L1085.8 1044.9L1086.1 1052.5L1086.3 1072.3L1086.6 1104.9L1086.8 1078.2
L1087.1 1125.2L1087.3 1077.5L1087.6 1136.1L1087.8 1124.1L1088.1 1148.4L1088.3 1156.1L1088.6 1137.3
L1088.8 1156.0L1089.1 1162.7L1089.3 1166.6L1089.6 1149.3L1089.8 1148.4L1090.1 1137.5L1090.3 1186.7
L1090.6 1157.3L1090.8 1156.9L1091.1 1141.7L1091.3 1170.5L1091.6 1152.9L1091.8 1176.7L1092.1 1169.6
L1092.3 1159.4L1092.6 1168.1L1092.8 1145.2L1093.1 1154.9L1093.3 1151.6L1093.6 1142.7L1093.8 1159.0
L1094.1 1156.9L1094.3 1177.2L1094.6 1128.4L1094.8 1149.7L1095.1 1146.6L1095.3 1152.9L1095.6 1164.7
L1095.8 1164.8L1096.1 1160.3L1096.3 1154.3L1096.6 1166.8L1096.8 1165.4L1097.1 1138.5L1097.3 1158.3
L1097.6 1145.2L1097.8 1148.0L1098.1 1164.3L1098.3 1163.6L1098.6 1164.5L1098.8 1153.3L1099.1 1161.5
L1099.3 1153.7L1099.6 1168.8L1099.8 1172.6L1100.1 1184.6L1100.3 1178.8L1100.6 1155.4L1100.8 1159.0
L1101.1 1153.4L1101.3 1167.1L1101.6 1185.6L1101.8 1171.1L1102.1 1138.3L1102.3 1148.6L1102.6 1147.9
L1102.8 1167.9L1103.1 1161.9L1103.3 1165.0L1103.6 1181.4L1103.8 1151.9L1104.1 1151.4L1104.3 1182.7
L1104.6 1164.2L1104.8 1151.4L1105.1 1135.9L1105.3 1138.3L1105.6 1125.4L1105.8 1151.4L1106.1 1148.3
L1106.3 1158.0L1106.6 1140.4L1106.8 1129.9L1107.1 1126.2L1107.3 1161.3L1107.6 1105.0L1107.8 1128.5
L1108.1 1119.3L1108.3 1121.7L1108.6 1098.4L1108.8 1106.3L1109.1 1105.0L1109.3 1081.6L1109.6 1071.0
L1109.8 1073.2L1110.1 1057.5L1110.3 1067.8L1110.6 1063.8L1110.8 1069.5L1111.1 1084.7L1111.3 1081.3
L1111.6 1051.7L1111.8 1030.6L1112.1 1063.0L1112.3 1074.2L1112.6 1066.5L1112.8 1074.4L1113.1 1065.9
L1113.3 1064.1L1113.6 1098.5L1113.8 1113.7L1114.1 1110.9L1114.3 1115.3L1114.6 1120.8L1114.8 1118.2
L1115.1 1105.6L1115.3 1146.6L1115.6 1144.8L1115.8 1139.3L1116.1 1138.9L1116.3 1173.9L1116.6 1136.7
L1116.8 1181.1L1117.1 1166.5L1117.3 1184.6L1117.6 1150.5L1117.8 1157.5L1118.1 1152.6L1118.3 1159.5
L1118.6 1156.2L1118.8 1151.1L1119.1 1169.7L1119.3 1151.2L1119.6 1154.3L1119.8 1165.5L1120.1 1154.6
L1120.3 1155.9L1120.6 1164.5L1120.8 1157.2L1121.1 1148.3L1121.3 1160.6L1121.6 1159.7L1121.8 1180.6
L1122.1 1150.8L1122.3 1173.4L1122.6 1154.7L1122.8 1159.7L1123.1 1160.3L1123.3 1167.2L1123.6 1174.1
L1123.8 1184.4L1124.1 1157.8L1124.3 1179.6L1124.6 1175.6L1124.8 1173.4L1125.1 1155.6L1125.3 1174.0
L1125.6 1162.5L1125.8 1167.4L1126.1 1193.0L1126.3 1170.5L1126.6 1175.3L1126.8 1175.3L1127.1 1160.1
L1127.3 1173.4L1127.6 1178.3L1127.8 1151.3L1128.1 1178.1L1128.3 1146.4L1128.6 1167.2L1128.8 1167.6
L1129.1 1177.4L1129.3 1163.7L1129.6 1154.9L1129.8 1151.2L1130.1 1145.6L1130.3 1167.6L1130.6 1155.4
L1130.8 1149.1L1131.1 1162.7L1131.3 1146.9L1131.6 1149.9L1131.8 1148.8L1132.1 1173.2L1132.3 1170.2
L1132.6 1150.0L1132.8 1131.9L1133.1 1153.7L1133.3 1150.4L1133.6 1153.1L1133.8 1155.1L1134.1 1143.5
L1134.3 1159.0L1134.6 1157.8L1134.8 1150.1L1135.1 1142.6L1135.3 1141.7L1135.6 1155.7L1135.8 1134.6
L1136.1 1145.6L1136.3 1138.9L1136.6 1118.0L1136.8 1154.3L1137.1 1147.2L1137.3 1147.9L1137.6 1157.0
L1137.8 1131.4L1138.1 1146.8L1138.3 1150.6L1138.6 1156.2L1138.8 1136.3L1139.1 1154.8L1139.3 1149.7
L1139.6 1161.0L1139.8 1158.7L1140.1 1152.7L1140.3 1168.2L1140.6 1146.4L1140.8 1141.6L1141.1 1142.0
L1141.3 1135.3L1141.6 1144.2L1141.8 1124.4L1142.1 1142.7L1142.3 1147.6L1142.6 1153.2L1142.8 1138.4
L1143.1 1156.8L1143.3 1134.1L1143.6 1139.3L1143.8 1119.3L1144.1 1130.5L1144.3 1127.6L1144.6 1153.0
L1144.8 1139.5L1145.1 1116.1L1145.3 1135.8L1145.6 1133.2L1145.8 1120.9L1146.1 1121.7L1146.3 1112.6
L1146.6 1104.7L1146.8 1081.2L1147.1 1103.4L1147.3 1121.4L1147.6 1120.0L1147.8 1087.9L1148.1 1075.5
L1148.3 1079.4L1148.6 1093.5L1148.8 1079.1L1149.1 1057.7L1149.3 1069.5L1149.6 1055.6L1149.8 1065.8
L1150.1 1048.8L1150.3 1031.7L1150.6 1052.0L1150.8 1058.8L1151.1 1034.8L1151.3 1046.8L1151.6 1058.5
L1151.8 1044.0L1152.1 1040.9L1152.3 1071.3L1152.6 1057.8L1152.8 1059.9L1153.1 1038.4L1153.3 1066.3
L1153.6 1031.3L1153.8 1043.5L1154.1 1053.9L1154.3 1054.5L1154.6 1016.0L1154.8 1010.5L1155.1 1016.6
L1155.3 967.2L1155.6 1011.0L1155.8 1004.0L1156.1 977.4L1156.3 992.7L1156.6 988.7L1156.8 963.6L1157.1 953.4
L1157.3 961.5L1157.6 899.8L1157.8 898.0L1158.1 856.2L1158.3 871.5L1158.6 809.1L1158.8 790.4L1159.1 738.3
L1159.3 691.3L1159.6 690.2L1159.8 579.3L1160.1 579.9L1160.3 513.6L1160.6 485.6L1160.8 390.4L1161.1 410.4
L1161.3 384.9L1161.6 300.0L1161.8 381.2L1162.1 383.2L1162.3 409.4L1162.6 510.8L1162.8 493.0L1163.1 515.5
L1163.3 569.5L1163.6 664.8L1163.8 706.8L1164.1 769.0L1164.3 826.6L1164.6 908.2L1164.8 926.2L1165.1 970.3
L1165.3 965.1L1165.6 1012.8L1165.8 1047.8L1166.1 1066.8L1166.3 1017.8L1166.6 1069.3L1166.8 1081.1
L1167.1 1069.8L1167.3 1032.3L1167.6 1050.9L1167.8 1065.7L1168.1 1062.5L1168.3 1089.0L1168.6 1036.9
L1168.8 1070.0L1169.1 1026.1L1169.3 1075.9L1169.6 1048.5L1169.8 1052.3L1170.1 1020.5L1170.3 1031.3
L1170.6 1052.4L1170.8 1009.8L1171.1 1073.0L1171.3 1005.6L1171.6 1006.3L1171.8 1027.4L1172.1 1030.7
L1172.3 1027.1L1172.6 996.8L1172.8 991.3L1173.1 982.0L1173.3 966.1L1173.6 916.1L1173.8 976.8L1174.1 949.0
L1174.3 934.7L1174.6 904.1L1174.8 912.4L1175.1 892.6L1175.3 875.8L1175.6 890.3L1175.8 803.3L1176.1 838.7
L1176.3 779.3L1176.6 738.1L1176.8 731.6L1177.1 590.6L1177.3 559.2L1177.6 479.4L1177.8 502.0L1178.1 396.5
L1178.3 405.9L1178.6 497.9L1178.8 472.4L1179.1 476.7L1179.3 537.6L1179.6 458.5L1179.8 482.9L1180.1 508.1
L1180.3 522.6L1180.6 485.2L1180.8 556.4L1181.1 611.0L1181.3 491.4L1181.6 589.7L1181.8 412.5L1182.1 617.0
L1182.3 485.8L1182.6 504.6L1182.8 481.7L1183.1 466.8L1183.3 437.0L1183.6 473.0L1183.8 521.3L1184.1 490.5
L1184.3 406.9L1184.6 377.2L1184.8 348.1L1185.1 323.2L1185.3 423.8L1185.6 379.2L1185.8 357.0L1186.1 300.0
L1186.3 335.4L1186.6 424.9L1186.8 420.6L1187.1 375.0L1187.3 470.8L1187.6 420.6L1187.8 507.5L1188.1 479.4
L1188.3 529.8L1188.6 591.3L1188.8 620.2L1189.1 669.3L1189.3 640.3L1189.6 739.8L1189.8 758.3L1190.1 745.3
L1190.3 785.1L1190.6 777.7L1190.8 818.7L1191.1 802.3L1191.3 852.5L1191.6 869.0L1191.8 910.8L1192.1 910.8
L1192.3 911.9L1192.6 888.0L1192.8 895.7L1193.1 897.4L1193.3 915.2L1193.6 869.2L1193.8 936.7L1194.1 887.0
L1194.3 940.1L1194.6 996.1L1194.8 1022.7L1195.1 1070.8L1195.3 1045.4L1195.6 1082.8L1195.8 1082.6L1196.1 1060.7
L1196.3 1083.5L1196.6 1105.7L1196.8 1099.4L1197.1 1126.5L1197.3 1138.4L1197.6 1152.7L1197.8 1150.2
L1198.1 1157.7L1198.3 1169.5L1198.6 1174.9L1198.8 1165.2L1199.1 1167.0L1199.3 1172.2L1199.6 1161.8
L1199.8 1154.4L1200.1 1173.7L1200.3 1154.2L1200.6 1171.5L1200.8 1152.6L1201.1 1180.0L1201.3 1150.5
L1201.6 1169.6L1201.8 1176.2L1202.1 1149.4L1202.3 1175.5L1202.6 1149.9L1202.8 1138.9L1203.1 1166.0
L1203.3 1165.3L1203.6 1154.7L1203.8 1129.0L1204.1 1155.4L1204.3 1152.1L1204.6 1150.7L1204.8 1151.3
L1205.1 1133.1L1205.3 1147.0L1205.6 1174.8L1205.8 1171.4L1206.1 1148.2L1206.3 1144.0L1206.6 1157.6
L1206.8 1165.8L1207.1 1161.8L1207.3 1138.5L1207.6 1155.1L1207.8 1154.9L1208.1 1171.2L1208.3 1168.3
L1208.6 1160.0L1208.8 1168.9L1209.1 1148.6L1209.3 1173.3L1209.6 1148.3L1209.8 1117.0L1210.1 1165.8
L1210.3 1142.2L1210.6 1145.0L1210.8 1131.3L1211.1 1156.5L1211.3 1153.7L1211.6 1150.2L1211.8 1161.2
L1212.1 1126.6L1212.3 1154.5L1212.6 1156.0L1212.8 1151.4L1213.1 1165.9L1213.3 1179.3L1213.6 1150.6
L1213.8 1144.7L1214.1 1149.8L1214.3 1159.6L1214.6 1166.6L1214.8 1148.5L1215.1 1173.1L1215.3 1147.8
L1215.6 1172.0L1215.8 1167.5L1216.1 1168.6L1216.3 1190.4L1216.6 1160.7L1216.8 1162.6L1217.1 1171.1
L1217.3 1176.5L1217.6 1150.2L1217.8 1170.5L1218.1 1158.8L1218.3 1175.6L1218.6 1184.6L1218.8 1169.7
L1219.1 1168.4L1219.3 1172.1L1219.6 1144.1L1219.8 1179.2L1220.1 1177.4L1220.3 1173.6L1220.6 1168.3
L1220.8 1165.5L1221.1 1171.6L1221.3 1185.5L1221.6 1173.3L1221.8 1187.2L1222.1 1152.9L1222.3 1170.8
L1222.6 1177.5L1222.8 1174.9L1223.1 1160.1L1223.3 1169.0L1223.6 1186.2L1223.8 1163.5L1224.1 1166.2
L1224.3 1165.3L1224.6 1170.1L1224.8 1180.6L1225.1 1180.2L1225.3 1157.4L1225.6 1187.6L1225.8 1169.9
L1226.1 1169.9L1226.3 1189.3L1226.6 1174.3L1226.8 1164.5L1227.1 1169.6L1227.3 1168.9L1227.6 1166.5
L1227.8 1172.2L1228.1 1182.3L1228.3 1177.9L1228.6 1163.6L1228.8 1194.9L1229.1 1166.9L1229.3 1175.9
L1229.6 1175.3L1229.8 1181.2L1230.1 1171.9L1230.3 1177.1L1230.6 1189.8L1230.8 1171.8L1231.1 1160.4
L1231.3 1171.5L1231.6 1160.2L1231.8 1162.9L1232.1 1166.8L1232.3 1167.0L1232.6 1160.0L1232.8 1169.6
L1233.1 1158.4L1233.3 1146.2L1233.6 1166.7L1233.8 1153.0L1234.1 1168.0L1234.3 1148.2L1234.6 1159.8
L1234.8 1156.3L1235.1 1128.1L1235.3 1136.6L1235.6 1139.5L1235.8 1163.6L1236.1 1130.4L1236.3 1157.0
L1236.6 1157.8L1236.8 1151.2L1237.1 1152.0L1237.3 1140.0L1237.6 1143.7L1237.8 1145.1L1238.1 1145.6
L1238.3 1146.4L1238.6 1134.8L1238.8 1127.0L1239.1 1125.9L1239.3 1135.0L1239.6 1107.1L1239.8 1109.3
L1240.1 1117.7L1240.3 1113.3L1240.6 1114.8L1240.8 1110.2L1241.1 1110.7L1241.3 1114.0L1241.6 1129.9
L1241.8 1108.2L1242.1 1119.2L1242.3 1104.0L1242.6 1130.5L1242.8 1139.8L1243.1 1138.5L1243.3 1110.6
L1243.6 1133.7L1243.8 1120.1L1244.1 1114.4L1244.3 1149.9L1244.6 1122.2L1244.8 1121.8L1245.1 1130.3
L1245.3 1127.4L1245.6 1152.4L1245.8 1147.1L1246.1 1160.7L1246.3 1151.9L1246.6 1143.5L1246.8 1162.7
L1247.1 1148.4L1247.3 1152.8L1247.6 1157.5L1247.8 1160.5L1248.1 1172.1L1248.3 1157.1L1248.6 1166.9
L1248.8 1164.7L1249.1 1154.6L1249.3 1157.3L1249.6 1166.5L1249.8 1173.4L1250.1 1173.8L1250.3 1176.5
L1250.6 1173.7L1250.8 1170.2L1251.1 1179.6L1251.3 1167.3L1251.6 1165.0L1251.8 1174.9L1252.1 1164.7
L1252.3 1173.9L1252.6 1172.0L1252.8 1174.3L1253.1 1179.7L1253.3 1172.6L1253.6 1176.7L1253.8 1164.1
L1254.1 1183.3L1254.3 1173.2L1254.6 1186.9L1254.8 1157.9L1255.1 1175.1L1255.3 1186.5L1255.6 1158.6
L1255.8 1180.9L1256.1 1186.1L1256.3 1186.2L1256.6 1169.0L1256.8 1187.8L1257.1 1187.0L1257.3 1174.9
L1257.6 1193.6L1257.8 1185.1L1258.1 1185.9L1258.3 1180.9L1258.6 1191.8L1258.8 1187.0L1259.1 1198.3
L1259.3 1191.0L1259.6 1179.5L1259.8 1183.9L1260.1 1196.3L1260.3 1182.5L1260.6 1190.7L1260.8 1192.3
L1261.1 1184.8L1261.3 1161.6L1261.6 1188.3L1261.8 1189.3L1262.1 1188.5L1262.3 1178.9L1262.6 1200.3
L1262.8 1185.8L1263.1 1180.6L1263.3 1179.7L1263.6 1191.4L1263.8 1175.8L1264.1 1176.9L1264.3 1209.4
L1264.6 1202.1L1264.8 1199.4L1265.1 1202.7L1265.3 1194.1L1265.6 1169.5L1265.8 1200.1L1266.1 1200.3
L1266.3 1192.1L1266.6 1166.1L1266.8 1199.6L1267.1 1200.6L1267.3 1181.0L1267.6 1187.3L1267.8 1193.8
L1268.1 1184.7L1268.3 1196.6L1268.6 1186.0L1268.8 1192.0L1269.1 1185.6L1269.3 1169.8L1269.6 1174.5
L1269.8 1207.9L1270.1 1186.7L1270.3 1196.7L1270.6 1194.7L1270.8 1200.1L1271.1 1188.6L1271.3 1177.3
L1271.6 1183.0L1271.8 1164.3L1272.1 1180.7L1272.3 1191.1L1272.6 1162.0L1272.8 1184.4L1273.1 1190.3
L1273.3 1195.1L1273.6 1173.7L1273.8 1176.3L1274.1 1164.7L1274.3 1172.8L1274.6 1187.6L1274.8 1202.2
L1275.1 1171.6L1275.3 1195.6L1275.6 1186.6L1275.8 1154.0L1276.1 1203.4L1276.3 1159.8L1276.6 1181.9
L1276.8 1184.6L1277.1 1202.8L1277.3 1199.6L1277.6 1204.0L1277.8 1183.8L1278.1 1191.8L1278.3 1195.5
L1278.6 1187.4L1278.8 1185.9L1279.1 1180.8L1279.3 1178.6L1279.6 1170.8L1279.8 1201.1L1280.1 1178.2
L1280.3 1162.4L1280.6 1184.5L1280.8 1181.5L1281.1 1183.3L1281.3 1198.7L1281.6 1180.2L1281.8 1178.4
L1282.1 1173.6L1282.3 1180.3L1282.6 1176.2L1282.8 1182.1L1283.1 1202.7L1283.3 1183.5L1283.6 1171.3
L1283.8 1197.7L1284.1 1187.3L1284.3 1186.7L1284.6 1185.5L1284.8 1186.3L1285.1 1184.7L1285.3 1191.5
L1285.6 1187.4L1285.8 1190.5L1286.1 1172.4L1286.3 1176.3L1286.6 1168.5L1286.8 1183.8L1287.1 1181.8
L1287.3 1168.6L1287.6 1177.7L1287.8 1194.1L1288.1 1182.3L1288.3 1159.0L1288.6 1168.0L1288.8 1174.1
L1289.1 1165.9L1289.3 1166.9L1289.6 1172.3L1289.8 1160.1L1290.1 1140.5L1290.3 1158.6L1290.6 1145.5
L1290.8 1144.9L1291.1 1132.6L1291.3 1123.3L1291.6 1120.7L1291.8 1130.6L1292.1 1121.6L1292.3 1124.9
L1292.6 1150.1L1292.8 1122.8L1293.1 1117.0L1293.3 1143.8L1293.6 1121.6L1293.8 1155.8L1294.1 1128.9
L1294.3 1148.7L1294.6 1134.5L1294.8 1147.9L1295.1 1148.0L1295.3 1149.3L1295.6 1130.2L1295.8 1137.8
L1296.1 1157.1L1296.3 1175.4L1296.6 1157.5L1296.8 1171.1L1297.1 1169.0L1297.3 1172.1L1297.6 1176.9
L1297.8 1153.2L1298.1 1170.0L1298.3 1165.7L1298.6 1164.4L1298.8 1159.3L1299.1 1159.9L1299.3 1157.6
L1299.6 1156.9L1299.8 1189.6L1300.1 1183.1L1300.3 1167.3L1300.6 1174.1L1300.8 1158.0L1301.1 1144.9
L1301.3 1150.1L1301.6 1168.4L1301.8 1180.4L1302.1 1166.0L1302.3 1155.2L1302.6 1161.0L1302.8 1151.6
L1303.1 1145.5L1303.3 1156.5L1303.6 1153.0L1303.8 1146.5L1304.1 1143.9L1304.3 1141.5L1304.6 1154.8
L1304.8 1168.8L1305.1 1144.6L1305.3 1174.8L1305.6 1118.5L1305.8 1141.6L1306.1 1118.1L1306.3 1129.0
L1306.6 1129.6L1306.8 1133.2L1307.1 1137.1L1307.3 1104.3L1307.6 1086.0L1307.8 1095.4L1308.1 1096.1
L1308.3 1072.2L1308.6 1092.2L1308.8 1097.7L1309.1 1026.5L1309.3 1044.0L1309.6 1041.7L1309.8 967.4L1310.1 995.3
L1310.3 974.4L1310.6 936.4L1310.8 984.9L1311.1 948.8L1311.3 921.0L1311.6 927.4L1311.8 912.2L1312.1 895.5
L1312.3 874.7L1312.6 870.3L1312.8 828.0L1313.1 857.9L1313.3 871.7L1313.6 842.8L1313.8 901.9L1314.1 869.3
L1314.3 860.7L1314.6 851.0L1314.8 877.7L1315.1 875.0L1315.3 867.3L1315.6 869.6L1315.8 863.8L1316.1 865.5
L1316.3 873.7L1316.6 866.7L1316.8 883.4L1317.1 872.9L1317.3 876.3L1317.6 879.7L1317.8 890.8L1318.1 882.1
L1318.3 915.0L1318.6 872.1L1318.8 863.6L1319.1 869.6L1319.3 879.4L1319.6 853.4L1319.8 820.3L1320.1 773.8
L1320.3 754.4L1320.6 794.2L1320.8 801.3L1321.1 735.0L1321.3 751.1L1321.6 787.6L1321.8 811.2L1322.1 812.4
L1322.3 864.7L1322.6 906.0L1322.8 863.9L1323.1 858.5L1323.3 886.3L1323.6 880.3L1323.8 863.8L1324.1 862.3
L1324.3 887.6L1324.6 883.8L1324.8 887.3L1325.1 936.6L1325.3 918.1L1325.6 915.9L1325.8 982.4L1326.1 972.4
L1326.3 1000.4L1326.6 1005.1L1326.8 995.5L1327.1 1003.5L1327.3 1034.0L1327.6 1074.8L1327.8 1041.8
L1328.1 1094.8L1328.3 1085.7L1328.6 1074.7L1328.8 1108.1L1329.1 1123.5L1329.3 1112.7L1329.6 1106.9
L1329.8 1152.6L1330.1 1139.0L1330.3 1161.8L1330.6 1139.8L1330.8 1162.6L1331.1 1160.5L1331.3 1159.6
L1331.6 1171.7L1331.8 1174.7L1332.1 1169.2L1332.3 1164.5L1332.6 1174.8L1332.8 1160.0L1333.1 1177.2
L1333.3 1176.8L1333.6 1185.8L1333.8 1179.7L1334.1 1175.6L1334.3 1174.9L1334.6 1173.0L1334.8 1162.5
L1335.1 1184.1L1335.3 1176.8L1335.6 1170.3L1335.8 1163.5L1336.1 1184.2L1336.3 1176.6L1336.6 1162.9
L1336.8 1177.7L1337.1 1187.5L1337.3 1172.0L1337.6 1175.3L1337.8 1168.7L1338.1 1166.8L1338.3 1180.7
L1338.6 1191.5L1338.8 1172.8L1339.1 1207.0L1339.3 1178.3L1339.6 1169.0L1339.8 1177.7L1340.1 1178.5
L1340.3 1162.8L1340.6 1162.2L1340.8 1170.7L1341.1 1178.4L1341.3 1173.5L1341.6 1181.8L1341.8 1159.1
L1342.1 1175.2L1342.3 1165.2L1342.6 1171.3L1342.8 1173.0L1343.1 1161.1L1343.3 1167.5L1343.6 1158.6
L1343.8 1171.6L1344.1 1160.9L1344.3 1163.9L1344.6 1170.5L1344.8 1161.8L1345.1 1179.2L1345.3 1161.3
L1345.6 1175.9L1345.8 1170.0L1346.1 1156.4L1346.3 1164.4L1346.6 1157.7L1346.8 1162.4L1347.1 1163.0
L1347.3 1185.0L1347.6 1160.9L1347.8 1182.1L1348.1 1169.7L1348.3 1150.2L1348.6 1138.6L1348.8 1171.2
L1349.1 1141.1L1349.3 1171.0L1349.6 1174.2L1349.8 1166.7L1350.1 1159.5L1350.3 1158.6L1350.6 1164.1
L1350.8 1157.2L1351.1 1154.1L1351.3 1155.6L1351.6 1173.4L1351.8 1151.8L1352.1 1163.4L1352.3 1144.6
L1352.6 1149.5L1352.8 1141.0L1353.1 1154.5L1353.3 1163.9L1353.6 1157.8L1353.8 1146.3L1354.1 1158.8
L1354.3 1145.2L1354.6 1153.0L1354.8 1150.3L1355.1 1152.4L1355.3 1112.0L1355.6 1124.9L1355.8 1151.3
L1356.1 1137.8L1356.3 1167.2L1356.6 1132.1L1356.8 1126.0L1357.1 1150.7L1357.3 1136.4L1357.6 1151.6
L1357.8 1131.8L1358.1 1120.8L1358.3 1130.3L1358.6 1109.6L1358.8 1096.0L1359.1 1113.2L1359.3 1120.8
L1359.6 1136.1L1359.8 1125.2L1360.1 1137.8L1360.3 1132.4L1360.6 1148.7L1360.8 1109.0L1361.1 1131.5
L1361.3 1133.6L1361.6 1115.2L1361.8 1139.9L1362.1 1127.0L1362.3 1139.6L1362.6 1133.0L1362.8 1126.1
L1363.1 1111.0L1363.3 1092.3L1363.6 1101.5L1363.8 1093.5L1364.1 1100.7L1364.3 1084.9L1364.6 1127.9
L1364.8 1056.5L1365.1 1098.6L1365.3 1065.7L1365.6 1062.0L1365.8 1071.3L1366.1 1042.8L1366.3 1007.8
L1366.6 1027.3L1366.8 1003.4L1367.1 988.0L1367.3 1011.5L1367.6 990.6L1367.8 998.3L1368.1 986.0L1368.3 1023.0
L1368.6 1021.9L1368.8 1071.7L1369.1 1050.8L1369.3 1041.0L1369.6 1064.2L1369.8 1065.2L1370.1 1036.8
L1370.3 1055.5L1370.6 1066.5L1370.8 1130.0L1371.1 1101.2L1371.3 1107.8L1371.6 1114.2L1371.8 1146.8
L1372.1 1143.7L1372.3 1175.9L1372.6 1169.7L1372.8 1189.0L1373.1 1157.0L1373.3 1162.7L1373.6 1151.6
L1373.8 1154.4L1374.1 1132.9L1374.3 1147.6L1374.6 1142.1L1374.8 1146.0L1375.1 1171.3L1375.3 1158.2
L1375.6 1171.4L1375.8 1166.3L1376.1 1167.1L1376.3 1168.2L1376.6 1145.6L1376.8 1165.2L1377.1 1149.3
L1377.3 1146.2L1377.6 1170.6L1377.8 1184.5L1378.1 1139.3L1378.3 1178.3L1378.6 1165.2L1378.8 1140.7
L1379.1 1156.9L1379.3 1158.2L1379.6 1158.2L1379.8 1147.3L1380.1 1133.5L1380.3 1153.1L1380.6 1165.6
L1380.8 1164.6L1381.1 1162.9L1381.3 1169.5L1381.6 1138.6L1381.8 1152.8L1382.1 1158.6L1382.3 1168.5
L1382.6 1156.1L1382.8 1161.6L1383.1 1156.0L1383.3 1185.3L1383.6 1121.9L1383.8 1154.1L1384.1 1190.3
L1384.3 1158.2L1384.6 1127.6L1384.8 1156.9L1385.1 1133.8L1385.3 1145.1L1385.6 1158.6L1385.8 1180.9
L1386.1 1162.4L1386.3 1165.6L1386.6 1117.0L1386.8 1158.9L1387.1 1143.3L1387.3 1154.7L1387.6 1161.3
L1387.8 1152.3L1388.1 1146.6L1388.3 1151.4L1388.6 1134.5L1388.8 1141.7L1389.1 1155.7L1389.3 1151.8
L1389.6 1157.9L1389.8 1178.2L1390.1 1162.0L1390.3 1157.3L1390.6 1140.5L1390.8 1142.1L1391.1 1163.9
L1391.3 1145.5L1391.6 1165.0L1391.8 1142.9L1392.1 1161.0L1392.3 1158.1L1392.6 1174.1L1392.8 1153.7
L1393.1 1154.2L1393.3 1163.5L1393.6 1160.9L1393.8 1185.3L1394.1 1156.6L1394.3 1152.7L1394.6 1156.1
L1394.8 1168.0L1395.1 1164.6L1395.3 1171.6L1395.6 1141.0L1395.8 1197.4L1396.1 1189.1L1396.3 1161.6
L1396.6 1144.3L1396.8 1164.7L1397.1 1168.6L1397.3 1129.2L1397.6 1162.3L1397.8 1140.1L1398.1 1168.6
L1398.3 1182.1L1398.6 1176.8L1398.8 1139.0L1399.1 1181.7L1399.3 1174.5L1399.6 1155.5L1399.8 1168.2
L1400.1 1183.0L1400.3 1155.5L1400.6 1160.0L1400.8 1151.8L1401.1 1177.1L1401.3 1127.9L1401.6 1180.7
L1401.8 1145.1L1402.1 1196.0L1402.3 1135.1L1402.6 1145.1L1402.8 1150.0L1403.1 1171.0L1403.3 1134.5
L1403.6 1167.3L1403.8 1148.8L1404.1 1176.5L1404.3 1153.3L1404.6 1165.0L1404.8 1155.0L1405.1 1184.1
L1405.3 1152.4L1405.6 1157.5L1405.8 1187.4L1406.1 1159.3L1406.3 1168.4L1406.6 1147.5L1406.8 1161.5
L1407.1 1125.1L1407.3 1160.4L1407.6 1149.4L1407.8 1136.8L1408.1 1138.2L1408.3 1176.3L1408.6 1165.8
L1408.8 1137.2L1409.1 1186.7L1409.3 1149.6L1409.6 1154.6L1409.8 1163.8L1410.1 1143.5L1410.3 1123.0
L1410.6 1149.6L1410.8 1178.3L1411.1 1175.0L1411.3 1137.6L1411.6 1179.0L1411.8 1161.8L1412.1 1168.9
L1412.3 1162.3L1412.6 1167.9L1412.8 1147.0L1413.1 1148.5L1413.3 1151.7L1413.6 1156.8L1413.8 1171.6
L1414.1 1144.3L1414.3 1185.3L1414.6 1152.1L1414.8 1152.4L1415.1 1170.6L1415.3 1166.2L1415.6 1154.7
L1415.8 1143.8L1416.1 1144.4L1416.3 1135.7L1416.6 1173.6L1416.8 1172.2L1417.1 1182.4L1417.3 1163.0
L1417.6 1160.3L1417.8 1165.5L1418.1 1167.0L1418.3 1148.7L1418.6 1154.9L1418.8 1177.2L1419.1 1123.4
L1419.3 1125.3L1419.6 1129.2L1419.8 1150.4L1420.1 1154.2L1420.3 1131.6L1420.6 1142.5L1420.8 1128.7
L1421.1 1129.6L1421.3 1113.6L1421.6 1117.0L1421.8 1113.3L1422.1 1126.6L1422.3 1140.0L1422.6 1077.5
L1422.8 1105.9L1423.1 1095.0L1423.3 1110.5L1423.6 1111.8L1423.8 1107.5L1424.1 1107.8L1424.3 1083.5
L1424.6 1081.4L1424.8 1075.0L1425.1 1113.6L1425.3 1085.0L1425.6 1116.8L1425.8 1108.7L1426.1 1082.2
L1426.3 1113.8L1426.6 1085.9L1426.8 1123.2L1427.1 1098.8L1427.3 1101.9L1427.6 1094.5L1427.8 1117.2
L1428.1 1137.7L1428.3 1118.9L1428.6 1107.8L1428.8 1161.8L1429.1 1160.6L1429.3 1148.2L1429.6 1135.0
L1429.8 1128.5L1430.1 1124.9L1430.3 1153.3L1430.6 1163.9L1430.8 1137.0L1431.1 1151.5L1431.3 1149.8
L1431.6 1151.7L1431.8 1162.6L1432.1 1183.1L1432.3 1150.8L1432.6 1169.4L1432.8 1172.9L1433.1 1157.1
L1433.3 1159.4L1433.6 1145.9L1433.8 1175.4L1434.1 1157.0L1434.3 1156.2L1434.6 1165.4L1434.8 1155.2
L1435.1 1153.8L1435.3 1163.2L1435.6 1184.7L1435.8 1165.7L1436.1 1174.6L1436.3 1151.6L1436.6 1146.1
L1436.8 1189.7L1437.1 1164.1L1437.3 1151.1L1437.6 1167.6L1437.8 1175.9L1438.1 1149.1L1438.3 1158.9
L1438.6 1172.0L1438.8 1158.6L1439.1 1178.3L1439.3 1180.2L1439.6 1174.3L1439.8 1164.5L1440.1 1168.9
L1440.3 1162.3L1440.6 1168.0L1440.8 1173.2L1441.1 1166.2L1441.3 1180.7L1441.6 1196.9L1441.8 1163.6
L1442.1 1173.7L1442.3 1179.2L1442.6 1177.2L1442.8 1167.4L1443.1 1164.7L1443.3 1181.4L1443.6 1177.2
L1443.8 1175.9L1444.1 1161.3L1444.3 1177.4L1444.6 1179.2L1444.8 1168.4L1445.1 1177.7L1445.3 1194.5
L1445.6 1149.6L1445.8 1177.1L1446.1 1157.3L1446.3 1155.1L1446.6 1167.6L1446.8 1176.3L1447.1 1170.8
L1447.3 1157.1L1447.6 1154.1L1447.8 1163.9L1448.1 1170.2L1448.3 1160.7L1448.6 1153.1L1448.8 1189.6
L1449.1 1160.5L1449.3 1168.1L1449.6 1163.7L1449.8 1163.2L1450.1 1170.2L1450.3 1166.3L1450.6 1176.6
L1450.8 1156.3L1451.1 1152.8L1451.3 1191.5L1451.6 1168.7L1451.8 1178.1L1452.1 1182.8L1452.3 1175.7
L1452.6 1169.8L1452.8 1151.7L1453.1 1151.1L1453.3 1180.3L1453.6 1176.9L1453.8 1175.6L1454.1 1150.3
L1454.3 1144.9L1454.6 1157.0L1454.8 1155.6L1455.1 1170.8L1455.3 1157.4L1455.6 1187.1L1455.8 1162.1
L1456.1 1162.8L1456.3 1179.0L1456.6 1173.0L1456.8 1159.1L1457.1 1178.6L1457.3 1191.1L1457.6 1155.5
L1457.8 1166.6L1458.1 1157.3L1458.3 1147.5L1458.6 1176.6L1458.8 1177.5L1459.1 1180.6L1459.3 1174.5
L1459.6 1147.0L1459.8 1169.4L1460.1 1162.2L1460.3 1156.5L1460.6 1157.4L1460.8 1178.5L1461.1 1166.6
L1461.3 1192.1L1461.6 1175.3L1461.8 1148.6L1462.1 1129.0L1462.3 1184.1L1462.6 1170.5L1462.8 1156.6
L1463.1 1190.0L1463.3 1155.5L1463.6 1169.4L1463.8 1149.0L1464.1 1156.3L1464.3 1151.4L1464.6 1182.6
L1464.8 1183.6L1465.1 1166.0L1465.3 1155.4L1465.6 1169.9L1465.8 1174.7L1466.1 1153.6L1466.3 1157.8
L1466.6 1169.4L1466.8 1178.4L1467.1 1171.4L1467.3 1175.6L1467.6 1156.9L1467.8 1144.5L1468.1 1174.1
L1468.3 1160.7L1468.6 1169.3L1468.8 1166.6L1469.1 1175.9L1469.3 1162.3L1469.6 1186.4L1469.8 1171.1
L1470.1 1176.5L1470.3 1177.5L1470.6 1181.9L1470.8 1175.1L1471.1 1152.1L1471.3 1164.1L1471.6 1190.7
L1471.8 1175.9L1472.1 1176.8L1472.3 1175.8L1472.6 1164.1L1472.8 1163.7L1473.1 1164.1L1473.3 1183.1
L1473.6 1174.8L1473.8 1189.6L1474.1 1176.2L1474.3 1190.7L1474.6 1175.8L1474.8 1158.7L1475.1 1189.1
L1475.3 1174.6L1475.6 1183.5L1475.8 1173.3L1476.1 1167.7L1476.3 1172.9L1476.6 1159.4L1476.8 1158.6
L1477.1 1161.8L1477.3 1165.7L1477.6 1156.9L1477.8 1170.2L1478.1 1174.5L1478.3 1192.9L1478.6 1190.9
L1478.8 1170.9L1479.1 1180.8L1479.3 1169.1L1479.6 1175.6L1479.8 1171.1L1480.1 1165.7L1480.3 1172.3
L1480.6 1155.7L1480.8 1176.3L1481.1 1168.5L1481.3 1159.9L1481.6 1167.8L1481.8 1177.7L1482.1 1164.3
L1482.3 1176.9L1482.6 1178.0L1482.8 1188.8L1483.1 1160.0L1483.3 1170.6L1483.6 1177.5L1483.8 1188.3
L1484.1 1174.8L1484.3 1180.2L1484.6 1155.8L1484.8 1165.6L1485.1 1190.3L1485.3 1168.9L1485.6 1195.9
L1485.8 1164.0L1486.1 1168.9L1486.3 1154.4L1486.6 1179.0L1486.8 1174.9L1487.1 1194.3L1487.3 1173.8
L1487.6 1169.2L1487.8 1156.4L1488.1 1171.1L1488.3 1182.5L1488.6 1180.2L1488.8 1185.6L1489.1 1181.6
L1489.3 1171.5L1489.6 1178.7L1489.8 1173.9L1490.1 1157.3L1490.3 1190.9L1490.6 1176.1L1490.8 1160.4
L1491.1 1176.3L1491.3 1175.2L1491.6 1183.0L1491.8 1188.0L1492.1 1146.0L1492.3 1178.1L1492.6 1188.9
L1492.8 1161.5L1493.1 1151.4L1493.3 1175.1L1493.6 1175.7L1493.8 1175.9L1494.1 1159.7L1494.3 1203.0
L1494.6 1174.2L1494.8 1180.3L1495.1 1196.3L1495.3 1175.3L1495.6 1165.3L1495.8 1146.0L1496.1 1183.9
L1496.3 1170.5L1496.6 1170.8L1496.8 1161.0L1497.1 1136.5L1497.3 1152.1L1497.6 1173.2L1497.8 1173.3
L1498.1 1175.3L1498.3 1186.5L1498.6 1170.9L1498.8 1173.0L1499.1 1181.5L1499.3 1154.8L1499.6 1168.8
L1499.8 1172.8L1500.1 1182.6L1500.3 1163.1L1500.6 1181.0L1500.8 1176.4L1501.1 1155.6L1501.3 1155.7
L1501.6 1156.2L1501.8 1173.7L1502.1 1174.5L1502.3 1180.3L1502.6 1181.4L1502.8 1166.1L1503.1 1184.2
L1503.3 1181.4L1503.6 1177.6L1503.8 1177.7L1504.1 1158.1L1504.3 1176.5L1504.6 1161.0L1504.8 1159.2
L1505.1 1168.6L1505.3 1174.1L1505.6 1172.0L1505.8 1168.9L1506.1 1161.5L1506.3 1174.7L1506.6 1164.4
L1506.8 1157.0L1507.1 1173.7L1507.3 1188.9L1507.6 1168.3L1507.8 1161.0L1508.1 1188.2L1508.3 1191.9
L1508.6 1169.6L1508.8 1170.5L1509.1 1175.3L1509.3 1198.9L1509.6 1174.5L1509.8 1184.1L1510.1 1177.9
L1510.3 1152.6L1510.6 1160.6L1510.8 1159.1L1511.1 1177.6L1511.3 1173.8L1511.6 1192.6L1511.8 1169.5
L1512.1 1175.9L1512.3 1173.3L1512.6 1173.9L1512.8 1198.1L1513.1 1175.4L1513.3 1188.6L1513.6 1186.6
L1513.8 1165.3L1514.1 1179.2L1514.3 1165.5L1514.6 1169.9L1514.8 1169.1L1515.1 1165.9L1515.3 1157.9
L1515.6 1184.3L1515.8 1157.5L1516.1 1170.1L1516.3 1183.7L1516.6 1166.5L1516.8 1171.2L1517.1 1175.2
L1517.3 1169.1L1517.6 1177.3L1517.8 1127.5L1518.1 1178.0L1518.3 1146.8L1518.6 1118.1L1518.8 1133.6
L1519.1 1120.7L1519.3 1140.6L1519.6 1117.3L1519.8 1123.6L1520.1 1142.1L1520.3 1138.9L1520.6 1123.7
L1520.8 1131.0L1521.1 1131.9L1521.3 1133.3L1521.6 1131.0L1521.8 1126.9L1522.1 1141.5L1522.3 1105.0
L1522.6 1119.8L1522.8 1127.5L1523.1 1118.8L1523.3 1115.3L1523.6 1115.5L1523.8 1122.9L1524.1 1135.3
L1524.3 1114.6L1524.6 1112.1L1524.8 1118.9L1525.1 1109.6L1525.3 1086.4L1525.6 1113.3L1525.8 1103.6
L1526.1 1099.1L1526.3 1112.0L1526.6 1101.5L1526.8 1090.1L1527.1 1076.8L1527.3 1073.9L1527.6 1090.1
L1527.8 1085.2L1528.1 1091.7L1528.3 1085.5L1528.6 1078.2L1528.8 1077.3L1529.1 1073.7L1529.3 1083.9
L1529.6 1075.3L1529.8 1100.7L1530.1 1077.0L1530.3 1071.0L1530.6 1090.4L1530.8 1073.3L1531.1 1116.5
L1531.3 1075.9L1531.6 1090.0L1531.8 1086.2L1532.1 1078.1L1532.3 1075.1L1532.6 1078.2L1532.8 1119.1
L1533.1 1125.5L1533.3 1145.7L1533.6 1100.3L1533.8 1131.9L1534.1 1127.5L1534.3 1138.9L1534.6 1122.2
L1534.8 1138.3L1535.1 1141.0L1535.3 1137.8L1535.6 1148.9L1535.8 1129.0L1536.1 1151.2L1536.3 1123.4
L1536.6 1153.7L1536.8 1103.9L1537.1 1133.9L1537.3 1124.1L1537.6 1134.7L1537.8 1148.2L1538.1 1144.6
L1538.3 1137.1L1538.6 1157.4L1538.8 1118.1L1539.1 1126.6L1539.3 1155.5L1539.6 1141.2L1539.8 1112.3
L1540.1 1141.9L1540.3 1123.8L1540.6 1156.0L1540.8 1152.2L1541.1 1132.4L1541.3 1154.4L1541.6 1129.6
L1541.8 1150.4L1542.1 1181.0L1542.3 1138.7L1542.6 1124.1L1542.8 1137.5L1543.1 1114.9L1543.3 1134.9
L1543.6 1120.7L1543.8 1155.5L1544.1 1131.3L1544.3 1116.4L1544.6 1149.0L1544.8 1146.8L1545.1 1137.3
L1545.3 1166.6L1545.6 1151.9L1545.8 1144.3L1546.1 1136.7L1546.3 1118.5L1546.6 1149.4L1546.8 1154.9
L1547.1 1138.1L1547.3 1129.4L1547.6 1106.0L1547.8 1127.1L1548.1 1145.5L1548.3 1153.9L1548.6 1162.1
L1548.8 1148.9L1549.1 1148.4L1549.3 1154.5L1549.6 1161.6L1549.8 1143.5L1550.1 1134.3L1550.3 1139.8
L1550.6 1135.7L1550.8 1140.4L1551.1 1149.3L1551.3 1155.0L1551.6 1153.8L1551.8 1153.7L1552.1 1150.1
L1552.3 1159.0L1552.6 1164.5L1552.8 1164.0L1553.1 1172.4L1553.3 1154.9L1553.6 1156.2L1553.8 1176.6
L1554.1 1162.2L1554.3 1164.9L1554.6 1157.9L1554.8 1171.4L1555.1 1158.4L1555.3 1153.0L1555.6 1162.8
L1555.8 1159.6L1556.1 1172.5L1556.3 1161.4L1556.6 1166.7L1556.8 1164.0L1557.1 1169.8L1557.3 1161.2
L1557.6 1177.9L1557.8 1155.0L1558.1 1164.8L1558.3 1161.6L1558.6 1174.2L1558.8 1168.2L1559.1 1172.4
L1559.3 1164.2L1559.6 1160.1L1559.8 1155.8L1560.1 1185.0L1560.3 1161.2L1560.6 1169.4L1560.8 1170.0
L1561.1 1176.4L1561.3 1164.8L1561.6 1157.6L1561.8 1153.9L1562.1 1166.0L1562.3 1169.1L1562.6 1186.2
L1562.8 1165.0L1563.1 1181.3L1563.3 1181.1L1563.6 1147.0L1563.8 1170.8L1564.1 1168.6L1564.3 1169.5
L1564.6 1152.9L1564.8 1162.3L1565.1 1144.8L1565.3 1147.9L1565.6 1147.5L1565.8 1165.8L1566.1 1141.5
L1566.3 1152.4L1566.6 1139.2L1566.8 1126.8L1567.1 1136.0L1567.3 1138.9L1567.6 1117.6L1567.8 1133.6
L1568.1 1111.6L1568.3 1106.1L1568.6 1119.8L1568.8 1110.0L1569.1 1108.7L1569.3 1104.6L1569.6 1116.1
L1569.8 1120.7L1570.1 1112.7L1570.3 1122.8L1570.6 1100.7L1570.8 1125.0L1571.1 1124.5L1571.3 1121.7
L1571.6 1107.6L1571.8 1116.9L1572.1 1118.5L1572.3 1136.2L1572.6 1128.0L1572.8 1131.3L1573.1 1121.9
L1573.3 1146.2L1573.6 1153.2L1573.8 1137.1L1574.1 1152.8L1574.3 1150.8L1574.6 1148.5L1574.8 1136.3
L1575.1 1172.0L1575.3 1133.1L1575.6 1159.1L1575.8 1153.1L1576.1 1171.8L1576.3 1155.9L1576.6 1162.8
L1576.8 1170.8L1577.1 1170.2L1577.3 1159.5L1577.6 1173.1L1577.8 1170.0L1578.1 1176.8L1578.3 1160.4
L1578.6 1165.8L1578.8 1162.2L1579.1 1157.5L1579.3 1169.7L1579.6 1171.5L1579.8 1182.7L1580.1 1164.0
L1580.3 1171.9L1580.6 1180.2L1580.8 1166.9L1581.1 1169.0L1581.3 1169.9L1581.6 1161.3L1581.8 1158.4
L1582.1 1180.9L1582.3 1170.8L1582.6 1168.2L1582.8 1155.8L1583.1 1170.2L1583.3 1181.4L1583.6 1156.8
L1583.8 1159.5L1584.1 1180.8L1584.3 1184.2L1584.6 1185.5L1584.8 1163.1L1585.1 1175.4L1585.3 1161.0
L1585.6 1174.5L1585.8 1165.1L1586.1 1170.9L1586.3 1182.9L1586.6 1171.7L1586.8 1165.0L1587.1 1167.8
L1587.3 1169.8L1587.6 1160.6L1587.8 1168.4L1588.1 1172.6L1588.3 1183.5L1588.6 1140.3L1588.8 1150.1
L1589.1 1149.0L1589.3 1174.3L1589.6 1191.9L1589.8 1165.2L1590.1 1163.9L1590.3 1176.5L1590.6 1132.8
L1590.8 1159.6L1591.1 1132.5L1591.3 1163.5L1591.6 1155.0L1591.8 1155.1L1592.1 1165.3L1592.3 1153.5
L1592.6 1196.0L1592.8 1160.4L1593.1 1165.1L1593.3 1189.4L1593.6 1154.3L1593.8 1171.3L1594.1 1149.2
L1594.3 1175.0L1594.6 1171.3L1594.8 1160.8L1595.1 1171.3L1595.3 1178.8L1595.6 1175.7L1595.8 1158.3
L1596.1 1157.5L1596.3 1171.8L1596.6 1139.4L1596.8 1150.1L1597.1 1163.6L1597.3 1164.7L1597.6 1180.9
L1597.8 1179.7L1598.1 1161.7L1598.3 1163.2L1598.6 1141.1L1598.8 1155.4L1599.1 1161.1L1599.3 1154.9
L1599.6 1158.6L1599.8 1165.6L1600.1 1145.8L1600.3 1150.7L1600.6 1135.3L1600.8 1172.6L1601.1 1144.5
L1601.3 1136.3L1601.6 1167.9L1601.8 1155.4L1602.1 1170.5L1602.3 1153.4L1602.6 1185.5L1602.8 1167.4
L1603.1 1160.2L1603.3 1159.8L1603.6 1155.7L1603.8 1168.8L1604.1 1184.3L1604.3 1152.9L1604.6 1144.3
L1604.8 1166.3L1605.1 1172.4L1605.3 1139.0L1605.6 1149.3L1605.8 1145.3L1606.1 1165.6L1606.3 1164.8
L1606.6 1148.5L1606.8 1143.3L1607.1 1166.9L1607.3 1131.1L1607.6 1166.3L1607.8 1155.8L1608.1 1182.8
L1608.3 1170.7L1608.6 1150.0L1608.8 1153.9L1609.1 1153.8L1609.3 1147.9L1609.6 1158.4L1609.8 1169.9
L1610.1 1137.4L1610.3 1154.2L1610.6 1176.7L1610.8 1166.8L1611.1 1146.3L1611.3 1146.3L1611.6 1145.6
L1611.8 1135.7L1612.1 1171.9L1612.3 1157.6L1612.6 1147.4L1612.8 1137.6L1613.1 1151.4L1613.3 1149.7
L1613.6 1179.1L1613.8 1150.2L1614.1 1157.8L1614.3 1170.3L1614.6 1164.9L1614.8 1128.0L1615.1 1127.2
L1615.3 1174.5L1615.6 1163.9L1615.8 1150.4L1616.1 1154.9L1616.3 1143.7L1616.6 1144.5L1616.8 1137.1
L1617.1 1162.6L1617.3 1162.8L1617.6 1158.4L1617.8 1166.1L1618.1 1163.0L1618.3 1157.8L1618.6 1145.2
L1618.8 1163.6L1619.1 1171.0L1619.3 1164.1L1619.6 1171.7L1619.8 1150.6L1620.1 1144.4L1620.3 1171.6
L1620.6 1149.3L1620.8 1159.3L1621.1 1154.1L1621.3 1156.7L1621.6 1153.3L1621.8 1150.1L1622.1 1135.5
L1622.3 1179.2L1622.6 1159.4L1622.8 1134.8L1623.1 1147.0L1623.3 1144.7L1623.6 1149.4L1623.8 1131.1
L1624.1 1164.9L1624.3 1177.1L1624.6 1156.0L1624.8 1167.3L1625.1 1131.0L1625.3 1145.6L1625.6 1173.1
L1625.8 1141.3L1626.1 1154.2L1626.3 1157.8L1626.6 1176.8L1626.8 1165.6L1627.1 1164.1L1627.3 1157.9
L1627.6 1169.0L1627.8 1169.7L1628.1 1178.5L1628.3 1187.1L1628.6 1181.1L1628.8 1174.5L1629.1 1173.5
L1629.3 1193.3L1629.6 1178.4L1629.8 1176.5L1630.1 1196.9L1630.3 1194.9L1630.6 1184.4L1630.8 1177.5
L1631.1 1172.2L1631.3 1191.4L1631.6 1175.2L1631.8 1191.2L1632.1 1172.6L1632.3 1182.8L1632.6 1186.6
L1632.8 1184.3L1633.1 1185.8L1633.3 1187.9L1633.6 1171.9L1633.8 1172.5L1634.1 1183.4L1634.3 1204.9
L1634.6 1183.9L1634.8 1175.3L1635.1 1178.3L1635.3 1186.0L1635.6 1198.8L1635.8 1179.7L1636.1 1192.2
L1636.3 1188.2L1636.6 1182.4L1636.8 1213.0L1637.1 1184.9L1637.3 1178.8L1637.6 1192.7L1637.8 1167.6
L1638.1 1199.4L1638.3 1195.5L1638.6 1193.6L1638.8 1203.8L1639.1 1194.1L1639.3 1169.0L1639.6 1188.4
L1639.8 1192.8L1640.1 1180.6L1640.3 1175.8L1640.6 1193.0L1640.8 1193.9L1641.1 1183.8L1641.3 1185.9
L1641.6 1183.1L1641.8 1182.5L1642.1 1188.2L1642.3 1200.7L1642.6 1171.4L1642.8 1185.4L1643.1 1206.9
L1643.3 1192.8L1643.6 1191.1L1643.8 1198.7L1644.1 1178.7L1644.3 1176.5L1644.6 1171.7L1644.8 1174.0
L1645.1 1192.5L1645.3 1198.5L1645.6 1184.4L1645.8 1181.2L1646.1 1192.2L1646.3 1193.9L1646.6 1212.0
L1646.8 1166.9L1647.1 1180.5L1647.3 1161.5L1647.6 1187.6L1647.8 1176.2L1648.1 1177.7L1648.3 1198.4
L1648.6 1196.1L1648.8 1187.4L1649.1 1184.6L1649.3 1182.4L1649.6 1173.6L1649.8 1177.6L1650.1 1196.2
L1650.3 1166.4L1650.6 1167.2L1650.8 1174.6L1651.1 1181.1L1651.3 1179.3L1651.6 1157.6L1651.8 1164.3
L1652.1 1160.4L1652.3 1147.5L1652.6 1159.4L1652.8 1151.0L1653.1 1163.8L1653.3 1156.2L1653.6 1139.3
L1653.8 1144.0L1654.1 1133.5L1654.3 1124.6L1654.6 1121.2L1654.8 1138.6L1655.1 1111.7L1655.3 1086.5
L1655.6 1095.7L1655.8 1115.7L1656.1 1132.6L1656.3 1075.3L1656.6 1081.7L1656.8 1077.0L1657.1 1052.8
L1657.3 1077.9L1657.6 1063.8L1657.8 1063.6L1658.1 1093.4L1658.3 1041.2L1658.6 1055.0L1658.8 1055.2
L1659.1 1028.4L1659.3 1029.4L1659.6 1065.5L1659.8 1050.9L1660.1 1041.4L1660.3 1013.3L1660.6 1053.1
L1660.8 1048.2L1661.1 1078.1L1661.3 1066.9L1661.6 1057.7L1661.8 1053.9L1662.1 1056.4L1662.3 1051.8
L1662.6 1073.4L1662.8 1077.9L1663.1 1090.4L1663.3 1103.2L1663.6 1095.8L1663.8 1087.4L1664.1 1114.8
L1664.3 1131.9L1664.6 1100.4L1664.8 1125.2L1665.1 1134.0L1665.3 1140.9L1665.6 1147.7L1665.8 1148.1
L1666.1 1155.8L1666.3 1180.3L1666.6 1189.0L1666.8 1158.4L1667.1 1140.1L1667.3 1156.8L1667.6 1137.2
L1667.8 1129.8L1668.1 1112.0L1668.3 1132.1L1668.6 1126.3L1668.8 1119.4L1669.1 1134.6L1669.3 1150.7
L1669.6 1139.0L1669.8 1134.3L1670.1 1114.1L1670.3 1125.7L1670.6 1096.0L1670.8 1137.1L1671.1 1134.3
L1671.3 1131.0L1671.6 1142.5L1671.8 1131.2L1672.1 1153.5L1672.3 1165.4L1672.6 1146.5L1672.8 1160.7
L1673.1 1138.5L1673.3 1171.7L1673.6 1174.3L1673.8 1156.7L1674.1 1189.5L1674.3 1173.3L1674.6 1155.1
L1674.8 1160.6L1675.1 1185.5L1675.3 1175.1L1675.6 1190.5L1675.8 1165.2L1676.1 1181.3L1676.3 1193.3
L1676.6 1178.6L1676.8 1193.2L1677.1 1184.1L1677.3 1190.9L1677.6 1190.8L1677.8 1209.1L1678.1 1176.0
L1678.3 1195.4L1678.6 1200.6L1678.8 1177.3L1679.1 1188.9L1679.3 1210.4L1679.6 1198.4L1679.8 1165.4
L1680.1 1186.2L1680.3 1172.1L1680.6 1191.6L1680.8 1181.7L1681.1 1183.4L1681.3 1180.8L1681.6 1191.8
L1681.8 1184.5L1682.1 1180.3L1682.3 1187.0L1682.6 1193.2L1682.8 1181.0L1683.1 1200.2L1683.3 1173.3
L1683.6 1193.5L1683.8 1185.9L1684.1 1205.1L1684.3 1183.5L1684.6 1183.4L1684.8 1176.8L1685.1 1209.5
L1685.3 1196.1L1685.6 1179.5L1685.8 1186.9L1686.1 1180.9L1686.3 1205.2L1686.6 1194.5L1686.8 1170.6
L1687.1 1192.6L1687.3 1199.5L1687.6 1190.7L1687.8 1195.3L1688.1 1189.7L1688.3 1163.6L1688.6 1193.0
L1688.8 1184.1L1689.1 1194.4L1689.3 1192.7L1689.6 1190.8L1689.8 1184.6L1690.1 1181.5L1690.3 1193.7
L1690.6 1199.4L1690.8 1168.4L1691.1 1186.4L1691.3 1204.6L1691.6 1200.5L1691.8 1184.9L1692.1 1204.8
L1692.3 1182.4L1692.6 1184.3L1692.8 1210.5L1693.1 1187.8L1693.3 1190.0L1693.6 1176.4L1693.8 1182.6
L1694.1 1181.0L1694.3 1191.0L1694.6 1174.9L1694.8 1202.6L1695.1 1189.1L1695.3 1186.7L1695.6 1186.4
L1695.8 1199.5L1696.1 1206.9L1696.3 1188.5L1696.6 1207.6L1696.8 1207.5L1697.1 1204.9L1697.3 1195.1
L1697.6 1178.3L1697.8 1198.5L1698.1 1188.4L1698.3 1194.0L1698.6 1174.5L1698.8 1189.5L1699.1 1194.3
L1699.3 1183.4L1699.6 1194.8L1699.8 1207.5L1700.1 1194.1L1700.3 1214.0L1700.6 1213.9L1700.8 1172.1
L1701.1 1183.4L1701.3 1195.6L1701.6 1186.4L1701.8 1170.8L1702.1 1194.2L1702.3 1199.4L1702.6 1184.5
L1702.8 1205.1L1703.1 1196.2L1703.3 1202.5L1703.6 1177.8L1703.8 1191.6L1704.1 1163.6L1704.3 1209.8
L1704.6 1203.4L1704.8 1191.5L1705.1 1193.1L1705.3 1185.9L1705.6 1201.4L1705.8 1185.2L1706.1 1192.6
L1706.3 1172.9L1706.6 1178.0L1706.8 1207.5L1707.1 1192.0L1707.3 1193.4L1707.6 1171.7L1707.8 1191.2
L1708.1 1210.2L1708.3 1178.0L1708.6 1170.1L1708.8 1190.0L1709.1 1186.7L1709.3 1189.6L1709.6 1180.2
L1709.8 1179.3L1710.1 1180.4L1710.3 1197.3L1710.6 1191.1L1710.8 1198.9L1711.1 1181.8L1711.3 1196.8
L1711.6 1187.5L1711.8 1192.3L1712.1 1199.9L1712.3 1191.8L1712.6 1188.3L1712.8 1176.5L1713.1 1192.1
L1713.3 1198.6L1713.6 1185.8L1713.8 1190.9L1714.1 1175.5L1714.3 1179.4L1714.6 1195.1L1714.8 1203.2
L1715.1 1188.7L1715.3 1176.2L1715.6 1187.8L1715.8 1177.0L1716.1 1188.6L1716.3 1208.6L1716.6 1193.7
L1716.8 1189.5L1717.1 1200.2L1717.3 1187.2L1717.6 1193.6L1717.8 1192.3L1718.1 1194.5L1718.3 1176.8
L1718.6 1196.7L1718.8 1198.2L1719.1 1169.0L1719.3 1168.1L1719.6 1181.6L1719.8 1168.0L1720.1 1189.9
L1720.3 1195.9L1720.6 1194.6L1720.8 1197.7L1721.1 1183.4L1721.3 1183.8L1721.6 1192.7L1721.8 1194.7
L1722.1 1194.3L1722.3 1191.9L1722.6 1184.0L1722.8 1198.7L1723.1 1192.5L1723.3 1197.9L1723.6 1165.5
L1723.8 1197.0L1724.1 1165.0L1724.3 1189.1L1724.6 1180.6L1724.8 1187.8L1725.1 1182.0L1725.3 1183.3
L1725.6 1187.9L1725.8 1214.0L1726.1 1178.1L1726.3 1163.0L1726.6 1177.8L1726.8 1190.2L1727.1 1176.8
L1727.3 1188.7L1727.6 1180.9L1727.8 1175.2L1728.1 1195.2L1728.3 1199.8L1728.6 1182.6L1728.8 1182.9
L1729.1 1192.5L1729.3 1170.2L1729.6 1174.4L1729.8 1193.6L1730.1 1191.1L1730.3 1177.3L1730.6 1174.2
L1730.8 1184.9L1731.1 1167.4L1731.3 1176.0L1731.6 1178.3L1731.8 1157.0L1732.1 1185.8L1732.3 1187.3
L1732.6 1190.0L1732.8 1164.7L1733.1 1165.9L1733.3 1170.3L1733.6 1165.0L1733.8 1198.7L1734.1 1167.7
L1734.3 1174.1L1734.6 1179.1L1734.8 1181.3L1735.1 1191.3L1735.3 1164.8L1735.6 1185.0L1735.8 1177.1
L1736.1 1162.9L1736.3 1176.6L1736.6 1159.7L1736.8 1191.9L1737.1 1166.3L1737.3 1184.9L1737.6 1187.9
L1737.8 1166.5L1738.1 1163.1L1738.3 1174.3L1738.6 1160.7L1738.8 1182.5L1739.1 1174.0L1739.3 1162.9
L1739.6 1163.5L1739.8 1179.6L1740.1 1154.0L1740.3 1190.6L1740.6 1161.5L1740.8 1168.3L1741.1 1159.5
L1741.3 1189.6L1741.6 1180.0L1741.8 1185.6L1742.1 1177.7L1742.3 1170.9L1742.6 1190.0L1742.8 1177.6
L1743.1 1174.7L1743.3 1176.3L1743.6 1178.1L1743.8 1172.5L1744.1 1166.9L1744.3 1149.3L1744.6 1145.0
L1744.8 1152.6L1745.1 1141.9L1745.3 1159.5L1745.6 1192.1L1745.8 1183.2L1746.1 1160.5L1746.3 1171.1
L1746.6 1167.4L1746.8 1142.7L1747.1 1163.0L1747.3 1170.0L1747.6 1180.2L1747.8 1149.6L1748.1 1135.5
L1748.3 1143.2L1748.6 1166.3L1748.8 1162.3L1749.1 1162.4L1749.3 1161.5L1749.6 1154.2L1749.8 1140.8
L1750.1 1161.7L1750.3 1157.2L1750.6 1156.0L1750.8 1161.5L1751.1 1123.4L1751.3 1103.6L1751.6 1107.0
L1751.8 1161.1L1752.1 1111.2L1752.3 1127.1L1752.6 1116.6L1752.8 1124.2L1753.1 1145.9L1753.3 1096.0
L1753.6 1095.5L1753.8 1078.8L1754.1 1084.0L1754.3 1079.7L1754.6 1043.2L1754.8 1076.6L1755.1 1064.6
L1755.3 1042.3L1755.6 1023.8L1755.8 1013.7L1756.1 977.1L1756.3 1017.3L1756.6 975.3L1756.8 979.3L1757.1 1010.7
L1757.3 971.5L1757.6 979.8L1757.8 1006.2L1758.1 1023.9L1758.3 977.8L1758.6 961.7L1758.8 981.3L1759.1 1000.8
L1759.3 1004.5L1759.6 980.9L1759.8 1017.1L1760.1 1031.7L1760.3 1008.1L1760.6 1015.0L1760.8 995.4L1761.1 1046.5
L1761.3 1022.1L1761.6 1003.4L1761.8 1040.7L1762.1 1006.9L1762.3 1023.7L1762.6 1003.2L1762.8 1065.9
L1763.1 1083.6L1763.3 1039.6L1763.6 1043.0L1763.8 1048.0L1764.1 1051.8L1764.3 1073.4L1764.6 1090.8
L1764.8 1054.9L1765.1 1080.5L1765.3 1050.0L1765.6 1102.2L1765.8 1081.9L1766.1 1076.3L1766.3 1108.4
L1766.6 1089.1L1766.8 1113.0L1767.1 1101.2L1767.3 1103.0L1767.6 1063.0L1767.8 1068.4L1768.1 1066.5
L1768.3 1050.9L1768.6 1074.1L1768.8 1034.0L1769.1 1058.5L1769.3 1060.7L1769.6 1006.4L1769.8 1018.7
L1770.1 1016.8L1770.3 1019.1L1770.6 1030.0L1770.8 1020.8L1771.1 1023.1L1771.3 1014.1L1771.6 1018.3
L1771.8 1025.4L1772.1 1028.1L1772.3 1004.0L1772.6 1012.8L1772.8 1001.6L1773.1 1009.3L1773.3 988.8
L1773.6 1025.0L1773.8 1019.6L1774.1 1006.1L1774.3 996.1L1774.6 998.7L1774.8 994.2L1775.1 978.8L1775.3 1029.8
L1775.6 1040.3L1775.8 973.0L1776.1 985.0L1776.3 1018.6L1776.6 1023.7L1776.8 991.8L1777.1 990.5L1777.3 1036.4
L1777.6 997.3L1777.8 1058.4L1778.1 1027.6L1778.3 1040.6L1778.6 1041.7L1778.8 1033.8L1779.1 1046.7
L1779.3 1052.2L1779.6 1088.7L1779.8 1072.8L1780.1 1082.3L1780.3 1082.3L1780.6 1089.1L1780.8 1096.1
L1781.1 1115.3L1781.3 1148.8L1781.6 1142.6L1781.8 1134.6L1782.1 1160.6L1782.3 1156.1L1782.6 1149.9
L1782.8 1147.2L1783.1 1137.1L1783.3 1157.8L1783.6 1152.8L1783.8 1138.8L1784.1 1145.4L1784.3 1189.2
L1784.6 1169.7L1784.8 1175.7L1785.1 1172.6L1785.3 1164.3L1785.6 1176.1L1785.8 1184.1L1786.1 1199.5
L1786.3 1177.1L1786.6 1183.8L1786.8 1164.3L1787.1 1172.9L1787.3 1161.0L1787.6 1178.9L1787.8 1166.0
L1788.1 1186.6L1788.3 1161.5L1788.6 1195.0L1788.8 1168.7L1789.1 1162.2L1789.3 1161.9L1789.6 1183.4
L1789.8 1163.7L1790.1 1199.7L1790.3 1193.3L1790.6 1183.7L1790.8 1158.5L1791.1 1177.6L1791.3 1168.9
L1791.6 1155.1L1791.8 1185.2L1792.1 1209.2L1792.3 1173.7L1792.6 1191.9L1792.8 1198.7L1793.1 1169.6
L1793.3 1178.3L1793.6 1186.7L1793.8 1189.8L1794.1 1169.2L1794.3 1187.4L1794.6 1183.7L1794.8 1197.8
L1795.1 1165.4L1795.3 1179.2L1795.6 1180.5L1795.8 1183.3L1796.1 1197.0L1796.3 1180.3L1796.6 1218.2
L1796.8 1180.3L1797.1 1200.3L1797.3 1203.0L1797.6 1202.7L1797.8 1188.6L1798.1 1181.2L1798.3 1188.9
L1798.6 1200.8L1798.8 1194.5L1799.1 1200.6L1799.3 1201.0L1799.6 1183.1L1799.8 1182.5L1800.1 1211.9
L1800.3 1188.1L1800.6 1174.5L1800.8 1217.4L1801.1 1183.9L1801.3 1182.6L1801.6 1206.4L1801.8 1180.2
L1802.1 1183.5L1802.3 1207.6L1802.6 1184.2L1802.8 1223.8L1803.1 1195.8L1803.3 1224.0L1803.6 1196.3
L1803.8 1195.4L1804.1 1186.6L1804.3 1191.9L1804.6 1188.4L1804.8 1194.5L1805.1 1204.7L1805.3 1178.6
L1805.6 1183.1L1805.8 1168.0L1806.1 1214.4L1806.3 1194.5L1806.6 1195.5L1806.8 1195.3L1807.1 1208.9
L1807.3 1200.6L1807.6 1207.4L1807.8 1195.1L1808.1 1196.0L1808.3 1197.1L1808.6 1175.4L1808.8 1211.5
L1809.1 1179.7L1809.3 1187.0L1809.6 1207.2L1809.8 1200.1L1810.1 1209.3L1810.3 1220.0L1810.6 1222.0
L1810.8 1216.6L1811.1 1198.4L1811.3 1224.6L1811.6 1191.6L1811.8 1200.9L1812.1 1213.2L1812.3 1199.5
L1812.6 1200.5L1812.8 1197.9L1813.1 1217.2L1813.3 1175.5L1813.6 1216.2L1813.8 1213.7L1814.1 1200.8
L1814.3 1208.0L1814.6 1190.5L1814.8 1214.2L1815.1 1228.2L1815.3 1190.9L1815.6 1217.5L1815.8 1200.7
L1816.1 1197.4L1816.3 1195.6L1816.6 1199.0L1816.8 1186.6L1817.1 1185.3L1817.3 1220.6L1817.6 1200.9
L1817.8 1207.5L1818.1 1204.4L1818.3 1205.9L1818.6 1181.6L1818.8 1187.9L1819.1 1206.3L1819.3 1210.2
L1819.6 1183.8L1819.8 1190.0L1820.1 1183.5L1820.3 1204.0L1820.6 1199.7L1820.8 1195.3L1821.1 1186.3
L1821.3 1198.2L1821.6 1193.7L1821.8 1183.5L1822.1 1196.5L1822.3 1183.7L1822.6 1203.4L1822.8 1199.0
L1823.1 1182.4L1823.3 1197.7L1823.6 1190.9L1823.8 1181.2L1824.1 1178.4L1824.3 1169.1L1824.6 1175.2
L1824.8 1192.3L1825.1 1202.0L1825.3 1180.1L1825.6 1189.0L1825.8 1190.7L1826.1 1195.3L1826.3 1191.0
L1826.6 1199.5L1826.8 1193.8L1827.1 1176.5L1827.3 1189.6L1827.6 1159.1L1827.8 1183.4L1828.1 1185.8
L1828.3 1192.3L1828.6 1182.4L1828.8 1195.4L1829.1 1201.2L1829.3 1176.5L1829.6 1180.0L1829.8 1189.4
L1830.1 1153.5L1830.3 1188.3L1830.6 1196.5L1830.8 1173.1L1831.1 1196.1L1831.3 1200.8L1831.6 1200.3
L1831.8 1192.5L1832.1 1184.7L1832.3 1192.4L1832.6 1186.9L1832.8 1169.0L1833.1 1180.8L1833.3 1187.7
L1833.6 1182.1L1833.8 1177.2L1834.1 1185.8L1834.3 1184.2L1834.6 1189.6L1834.8 1188.3L1835.1 1191.2
L1835.3 1201.4L1835.6 1191.0L1835.8 1194.5L1836.1 1174.4L1836.3 1160.7L1836.6 1184.8L1836.8 1198.4
L1837.1 1185.8L1837.3 1182.3L1837.6 1174.5L1837.8 1201.8L1838.1 1183.8L1838.3 1193.8L1838.6 1205.4
L1838.8 1197.9L1839.1 1220.2L1839.3 1189.4L1839.6 1203.8L1839.8 1200.5L1840.1 1182.9L1840.3 1192.1
L1840.6 1184.1L1840.8 1178.2L1841.1 1195.2L1841.3 1181.5L1841.6 1212.5L1841.8 1182.0L1842.1 1184.5
L1842.3 1192.4L1842.6 1184.8L1842.8 1191.8L1843.1 1183.8L1843.3 1173.9L1843.6 1163.3L1843.8 1175.7
L1844.1 1209.0"/>
<g>
<polygon points="732.9,768.0 766.3,768.0 749.6,797.0"/>
<polygon points="838.9,648.1 872.1,648.1 855.5,676.9"/>
<polygon class="o" style="stroke-width:3.1" points="746.6,641.4 775.4,641.4 761.0,617.0"/><polygon points="743.9,642.9 778.1,642.9 776.3,639.9 745.7,639.9"/>
<polygon points="829.9,946.5 848.0,929.0 866.1,946.5 848.0,964.0"/>
<polygon points="954.1,929.0 954.1,963.0 922.9,946.0"/>
<polygon points="959.7,921.6 978.4,904.8 997.1,921.6 978.4,938.4"/>
<polygon points="1004.7,128.5 1023.5,110.8 1042.3,128.5 1023.5,146.2"/>
<polygon points="1026.1,163.0 1026.1,201.0 1058.1,182.0"/>
<polygon points="1133.8,320.4 1152.0,303.0 1170.2,320.4 1152.0,337.8"/>
<polygon points="1183.2,278.9 1183.2,312.9 1212.9,295.9"/>
<polygon points="1305.1,687.1 1305.1,725.0 1337.2,706.0"/>
<polygon points="1348.7,970.4 1366.9,953.0 1385.1,970.4 1366.9,987.8"/>
<polygon points="1372.9,907.1 1372.9,944.5 1405.1,925.8"/>
<polygon class="o" style="stroke-width:2.1" points="1507.8,992.8 1545.3,992.8 1526.5,1024.6"/><polygon points="1506.0,991.8 1547.1,991.8 1545.2,995.1 1507.9,995.1"/>
<polygon points="1511.7,1018.8 1511.7,1057.0 1544.3,1037.9"/>
<polygon class="o" style="stroke-width:2.1" points="1633.3,987.3 1670.2,987.3 1651.8,1018.9"/><polygon points="1631.5,986.3 1672.0,986.3 1670.1,989.6 1633.4,989.6"/>
<polygon class="o" style="stroke-width:2.1" points="1755.1,928.3 1792.0,928.3 1773.5,959.9"/><polygon points="1753.3,927.3 1793.8,927.3 1791.9,930.6 1755.2,930.6"/>
</g>
<g>
<polygon points="1407.9,100.3 1461.2,100.3 1434.6,145.8"/>
<line class="ln" x1="1464.1" y1="126.2" x2="1602.7" y2="126.2"/>
<polygon class="o" style="stroke-width:2.8" points="1410.2,256.6 1458.7,256.6 1434.4,214.8"/><polygon points="1407.8,258.0 1461.1,258.0 1458.8,254.1 1410.1,254.1"/>
<line class="ln" x1="1464.1" y1="238.7" x2="1602.7" y2="238.7"/>
<polygon points="1408.0,350.7 1434.6,324.2 1461.2,350.7 1434.6,377.2"/>
<line class="ln" x1="1467.3" y1="354.2" x2="1606.1" y2="354.2"/>
<polygon points="1454.3,440.6 1454.3,493.0 1407.9,466.8"/>
<line class="ln" x1="1457.8" y1="469.4" x2="1596.6" y2="469.4"/>
<polygon points="1407.9,555.1 1407.9,607.9 1454.3,581.5"/>
<line class="ln" x1="1457.8" y1="583.9" x2="1596.6" y2="583.9"/>
<polygon class="o" style="stroke-width:2.8" points="1410.2,675.4 1458.7,675.4 1434.4,717.4"/><polygon points="1407.8,674.0 1461.1,674.0 1458.9,677.9 1410.0,677.9"/>
<line class="ln" x1="1464.1" y1="700.5" x2="1602.7" y2="700.5"/>
</g>
<g class="lg">
<text><tspan x="1616.1" y="146.5" textLength="35.5" lengthAdjust="spacingAndGlyphs">S</tspan><tspan x="1649.8" y="146.5" textLength="16.0" lengthAdjust="spacingAndGlyphs">i</tspan><tspan x="1665.2" y="146.5" textLength="47.6" lengthAdjust="spacingAndGlyphs">O</tspan><tspan x="1712.0" y="168.9" textLength="32.7" lengthAdjust="spacingAndGlyphs">2</tspan></text>
<text><tspan x="1618.0" y="257.8" textLength="55.7" lengthAdjust="spacingAndGlyphs">M</tspan><tspan x="1674.8" y="257.8" textLength="33.2" lengthAdjust="spacingAndGlyphs">g</tspan><tspan x="1707.2" y="285.9" textLength="32.9" lengthAdjust="spacingAndGlyphs">2</tspan><tspan x="1740.2" y="257.8" textLength="43.0" lengthAdjust="spacingAndGlyphs">A</tspan><tspan x="1785.7" y="257.8" textLength="16.2" lengthAdjust="spacingAndGlyphs">l</tspan><tspan x="1801.4" y="285.9" textLength="32.3" lengthAdjust="spacingAndGlyphs">2</tspan><tspan x="1832.3" y="257.8" textLength="47.6" lengthAdjust="spacingAndGlyphs">O</tspan><tspan x="1879.0" y="285.9" textLength="28.9" lengthAdjust="spacingAndGlyphs">4</tspan></text>
<text><tspan x="1622.6" y="374.4" textLength="42.4" lengthAdjust="spacingAndGlyphs">A</tspan><tspan x="1668.5" y="374.4" textLength="16.8" lengthAdjust="spacingAndGlyphs">l</tspan><tspan x="1685.2" y="400.5" textLength="29.5" lengthAdjust="spacingAndGlyphs">6</tspan><tspan x="1714.5" y="374.4" textLength="47.6" lengthAdjust="spacingAndGlyphs">O</tspan><tspan x="1761.0" y="400.5" textLength="27.1" lengthAdjust="spacingAndGlyphs">1</tspan><tspan x="1789.8" y="400.5" textLength="31.1" lengthAdjust="spacingAndGlyphs">3</tspan><tspan x="1818.0" y="374.4" textLength="36.6" lengthAdjust="spacingAndGlyphs">S</tspan><tspan x="1852.7" y="374.4" textLength="16.9" lengthAdjust="spacingAndGlyphs">i</tspan><tspan x="1868.5" y="400.5" textLength="31.8" lengthAdjust="spacingAndGlyphs">2</tspan></text>
<text><tspan x="1629.2" y="489.2" textLength="31.8" lengthAdjust="spacingAndGlyphs">F</tspan><tspan x="1662.0" y="489.2" textLength="29.4" lengthAdjust="spacingAndGlyphs">e</tspan><tspan x="1692.1" y="489.2" textLength="43.5" lengthAdjust="spacingAndGlyphs">A</tspan><tspan x="1737.6" y="489.2" textLength="16.0" lengthAdjust="spacingAndGlyphs">l</tspan><tspan x="1755.6" y="515.2" textLength="16.8" lengthAdjust="spacingAndGlyphs">l</tspan><tspan x="1771.2" y="515.2" textLength="30.5" lengthAdjust="spacingAndGlyphs">3</tspan></text>
<text><tspan x="1628.9" y="604.7" textLength="56.1" lengthAdjust="spacingAndGlyphs">M</tspan><tspan x="1686.3" y="604.7" textLength="32.5" lengthAdjust="spacingAndGlyphs">g</tspan><tspan x="1718.8" y="630.0" textLength="29.8" lengthAdjust="spacingAndGlyphs">3</tspan><tspan x="1761.9" y="594.9" textLength="21.8" lengthAdjust="spacingAndGlyphs" font-size="70">(</tspan><tspan x="1786.1" y="604.7" textLength="37.1" lengthAdjust="spacingAndGlyphs">P</tspan><tspan x="1821.2" y="604.7" textLength="47.8" lengthAdjust="spacingAndGlyphs">O</tspan><tspan x="1867.8" y="630.0" textLength="29.4" lengthAdjust="spacingAndGlyphs">4</tspan><tspan x="1901.3" y="594.9" textLength="21.4" lengthAdjust="spacingAndGlyphs" font-size="70">)</tspan><tspan x="1935.2" y="630.0" textLength="32.3" lengthAdjust="spacingAndGlyphs">2</tspan></text>
<text><tspan x="1636.3" y="720.1" textLength="42.9" lengthAdjust="spacingAndGlyphs">A</tspan><tspan x="1681.9" y="720.1" textLength="16.1" lengthAdjust="spacingAndGlyphs">l</tspan><tspan x="1699.3" y="720.1" textLength="36.5" lengthAdjust="spacingAndGlyphs">P</tspan><tspan x="1734.5" y="720.1" textLength="47.6" lengthAdjust="spacingAndGlyphs">O</tspan><tspan x="1780.9" y="746.0" textLength="29.6" lengthAdjust="spacingAndGlyphs">4</tspan></text>
</g>
</svg>
</body></html>
